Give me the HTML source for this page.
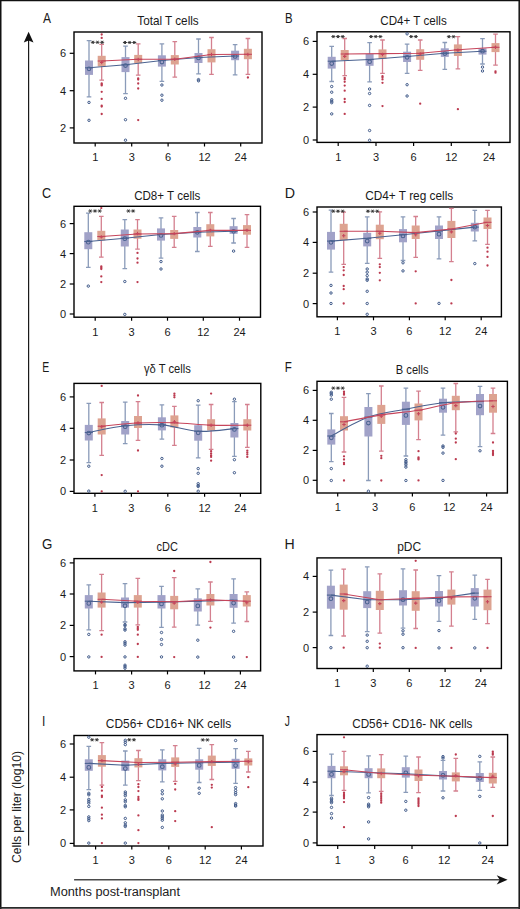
<!DOCTYPE html>
<html><head><meta charset="utf-8"><title>Figure</title>
<style>
html,body{margin:0;padding:0;background:#fff;}
body{width:520px;height:909px;overflow:hidden;}
svg{display:block;font-family:"Liberation Sans",sans-serif;}
</style></head><body>
<svg width="520" height="909" viewBox="0 0 520 909">
<rect x="0" y="0" width="520" height="909" fill="#fff"/>
<path d="M0.75 0V909M0 0.6H520M519.2 0V909" stroke="#111" stroke-width="1.5" fill="none"/><path d="M0 907.9H520" stroke="#2a2a2a" stroke-width="1.8"/>
<line x1="28.6" y1="40" x2="28.6" y2="845.6" stroke="#1a1a1a" stroke-width="1.2"/>
<path d="M28.6 31.8L33.5 42.6L28.6 40.4L23.8 42.6Z" fill="#111"/>
<line x1="74.1" y1="879.85" x2="500" y2="879.85" stroke="#4a4a4a" stroke-width="1.5"/>
<path d="M507.6 879.8L496.7 875.3L499.8 879.8L496.7 884.4Z" fill="#111"/>
<text transform="translate(21.4 863) rotate(-90)" font-size="13" fill="#222" textLength="112" lengthAdjust="spacingAndGlyphs">Cells per liter (log10)</text>
<text x="50" y="895.6" font-size="12.5" fill="#222" textLength="130" lengthAdjust="spacingAndGlyphs">Months post-transplant</text>
<rect x="74" y="32" width="188" height="111" fill="none" stroke="#000" stroke-width="1.4"/>
<line x1="69.7" y1="53.3" x2="74" y2="53.3" stroke="#000" stroke-width="1.2"/>
<text x="66.2" y="57.2" font-size="11" text-anchor="end" fill="#1a1a1a">6</text>
<line x1="69.7" y1="90.7" x2="74" y2="90.7" stroke="#000" stroke-width="1.2"/>
<text x="66.2" y="94.6" font-size="11" text-anchor="end" fill="#1a1a1a">4</text>
<line x1="69.7" y1="127.9" x2="74" y2="127.9" stroke="#000" stroke-width="1.2"/>
<text x="66.2" y="131.8" font-size="11" text-anchor="end" fill="#1a1a1a">2</text>
<line x1="95.2" y1="143" x2="95.2" y2="146.5" stroke="#000" stroke-width="1.2"/>
<text x="95.2" y="161.3" font-size="11" text-anchor="middle" fill="#1a1a1a">1</text>
<line x1="131.7" y1="143" x2="131.7" y2="146.5" stroke="#000" stroke-width="1.2"/>
<text x="131.7" y="161.3" font-size="11" text-anchor="middle" fill="#1a1a1a">3</text>
<line x1="168.1" y1="143" x2="168.1" y2="146.5" stroke="#000" stroke-width="1.2"/>
<text x="168.1" y="161.3" font-size="11" text-anchor="middle" fill="#1a1a1a">6</text>
<line x1="204.5" y1="143" x2="204.5" y2="146.5" stroke="#000" stroke-width="1.2"/>
<text x="204.5" y="161.3" font-size="11" text-anchor="middle" fill="#1a1a1a">12</text>
<line x1="240.7" y1="143" x2="240.7" y2="146.5" stroke="#000" stroke-width="1.2"/>
<text x="240.7" y="161.3" font-size="11" text-anchor="middle" fill="#1a1a1a">24</text>
<text x="168" y="24.5" font-size="12.8" text-anchor="middle" fill="#1a1a1a" textLength="61.4" lengthAdjust="spacingAndGlyphs">Total T cells</text>
<text transform="translate(43 23) scale(0.8 1)" font-size="15" fill="#1a1a1a">A</text>
<path d="M89 40.7V96.8M86.7 40.7H91.3M86.7 96.8H91.3" stroke="#8a9bb9" stroke-width="1.3" fill="none"/>
<rect x="85" y="60.5" width="8" height="14.4" fill="#a1a2c8"/>
<path d="M125.5 46.2V93.7M123.2 46.2H127.8M123.2 93.7H127.8" stroke="#8a9bb9" stroke-width="1.3" fill="none"/>
<rect x="121.5" y="57.1" width="8" height="15" fill="#a1a2c8"/>
<path d="M161.9 43.8V81.3M159.6 43.8H164.2M159.6 81.3H164.2" stroke="#8a9bb9" stroke-width="1.3" fill="none"/>
<rect x="157.9" y="55.3" width="8" height="11.3" fill="#a1a2c8"/>
<path d="M198.5 39V73.9M196.2 39H200.8M196.2 73.9H200.8" stroke="#8a9bb9" stroke-width="1.3" fill="none"/>
<rect x="194.5" y="53" width="8" height="10" fill="#a1a2c8"/>
<path d="M235.1 44.7V74.9M232.8 44.7H237.4M232.8 74.9H237.4" stroke="#8a9bb9" stroke-width="1.3" fill="none"/>
<rect x="231.1" y="50.7" width="8" height="9.5" fill="#a1a2c8"/>
<path d="M101.7 44.4V80.2M99.4 44.4H104M99.4 80.2H104" stroke="#d4808f" stroke-width="1.3" fill="none"/>
<rect x="97.7" y="55.8" width="8" height="10.6" fill="#dda391"/>
<path d="M138.2 43.8V75.2M135.9 43.8H140.5M135.9 75.2H140.5" stroke="#d4808f" stroke-width="1.3" fill="none"/>
<rect x="134.2" y="54.9" width="8" height="8.3" fill="#dda391"/>
<path d="M174.8 41.7V77.1M172.5 41.7H177.1M172.5 77.1H177.1" stroke="#d4808f" stroke-width="1.3" fill="none"/>
<rect x="170.8" y="55.1" width="8" height="9.4" fill="#dda391"/>
<path d="M211.5 37.5V74.3M209.2 37.5H213.8M209.2 74.3H213.8" stroke="#d4808f" stroke-width="1.3" fill="none"/>
<rect x="207.5" y="49.2" width="8" height="13.2" fill="#dda391"/>
<path d="M247.9 38.5V74.3M245.6 38.5H250.2M245.6 74.3H250.2" stroke="#d4808f" stroke-width="1.3" fill="none"/>
<rect x="243.9" y="48.8" width="8" height="10.4" fill="#dda391"/>
<path d="M89 67.8 L125.5 64.8 L161.9 60.5 L198.5 57.5 L235.1 56" stroke="#4a6290" stroke-width="1.1" fill="none"/>
<line x1="85" y1="67.8" x2="93" y2="67.8" stroke="#4a6290" stroke-width="1.1"/>
<circle cx="89" cy="68.8" r="1.85" fill="none" stroke="#4a6290" stroke-width="1.05"/>
<circle cx="89" cy="102.4" r="1.2" fill="none" stroke="#3e5888" stroke-width="1.0"/>
<circle cx="89" cy="120.3" r="1.2" fill="none" stroke="#3e5888" stroke-width="1.0"/>
<line x1="121.5" y1="64.8" x2="129.5" y2="64.8" stroke="#4a6290" stroke-width="1.1"/>
<circle cx="125.5" cy="65.5" r="1.85" fill="none" stroke="#4a6290" stroke-width="1.05"/>
<circle cx="125.5" cy="98.3" r="1.2" fill="none" stroke="#3e5888" stroke-width="1.0"/>
<circle cx="125.5" cy="119.7" r="1.2" fill="none" stroke="#3e5888" stroke-width="1.0"/>
<circle cx="125.5" cy="140.2" r="1.2" fill="none" stroke="#3e5888" stroke-width="1.0"/>
<line x1="157.9" y1="60.5" x2="165.9" y2="60.5" stroke="#4a6290" stroke-width="1.1"/>
<circle cx="161.9" cy="62" r="1.85" fill="none" stroke="#4a6290" stroke-width="1.05"/>
<circle cx="161.9" cy="85" r="1.2" fill="none" stroke="#3e5888" stroke-width="1.0"/>
<circle cx="161.9" cy="95.2" r="1.2" fill="none" stroke="#3e5888" stroke-width="1.0"/>
<circle cx="161.9" cy="100.2" r="1.2" fill="none" stroke="#3e5888" stroke-width="1.0"/>
<line x1="194.5" y1="57.5" x2="202.5" y2="57.5" stroke="#4a6290" stroke-width="1.1"/>
<circle cx="198.5" cy="57.9" r="1.85" fill="none" stroke="#4a6290" stroke-width="1.05"/>
<circle cx="198.5" cy="79.6" r="1.2" fill="none" stroke="#3e5888" stroke-width="1.0"/>
<circle cx="198.5" cy="80.8" r="1.2" fill="none" stroke="#3e5888" stroke-width="1.0"/>
<line x1="231.1" y1="56" x2="239.1" y2="56" stroke="#4a6290" stroke-width="1.1"/>
<circle cx="235.1" cy="56.4" r="1.85" fill="none" stroke="#4a6290" stroke-width="1.05"/>
<path d="M101.7 61 L138.2 59.3 L174.8 59.2 L211.5 54.5 L247.9 54.3" stroke="#c6455b" stroke-width="1.1" fill="none"/>
<line x1="97.7" y1="61" x2="105.7" y2="61" stroke="#c6455b" stroke-width="1.1"/>
<path d="M100 62.5h3.4M101.7 60.8v3.4" stroke="#c6455b" stroke-width="1.1"/>
<circle cx="101.7" cy="34.5" r="1.15" fill="#bb3a4f"/>
<circle cx="101.7" cy="37.9" r="1.15" fill="#bb3a4f"/>
<circle cx="101.7" cy="83.5" r="1.15" fill="#bb3a4f"/>
<circle cx="101.7" cy="84.4" r="1.15" fill="#bb3a4f"/>
<circle cx="101.7" cy="85.4" r="1.15" fill="#bb3a4f"/>
<circle cx="101.7" cy="91.8" r="1.15" fill="#bb3a4f"/>
<circle cx="101.7" cy="98.9" r="1.15" fill="#bb3a4f"/>
<circle cx="101.7" cy="105.7" r="1.15" fill="#bb3a4f"/>
<circle cx="101.7" cy="106.6" r="1.15" fill="#bb3a4f"/>
<circle cx="101.7" cy="114" r="1.15" fill="#bb3a4f"/>
<line x1="134.2" y1="59.3" x2="142.2" y2="59.3" stroke="#c6455b" stroke-width="1.1"/>
<path d="M136.5 59.5h3.4M138.2 57.8v3.4" stroke="#c6455b" stroke-width="1.1"/>
<circle cx="138.2" cy="78.4" r="1.15" fill="#bb3a4f"/>
<circle cx="138.2" cy="79.5" r="1.15" fill="#bb3a4f"/>
<circle cx="138.2" cy="83.5" r="1.15" fill="#bb3a4f"/>
<circle cx="138.2" cy="88.5" r="1.15" fill="#bb3a4f"/>
<circle cx="138.2" cy="120.1" r="1.15" fill="#bb3a4f"/>
<line x1="170.8" y1="59.2" x2="178.8" y2="59.2" stroke="#c6455b" stroke-width="1.1"/>
<path d="M173.1 59.2h3.4M174.8 57.5v3.4" stroke="#c6455b" stroke-width="1.1"/>
<line x1="207.5" y1="54.5" x2="215.5" y2="54.5" stroke="#c6455b" stroke-width="1.1"/>
<path d="M209.8 54.5h3.4M211.5 52.8v3.4" stroke="#c6455b" stroke-width="1.1"/>
<line x1="243.9" y1="54.3" x2="251.9" y2="54.3" stroke="#c6455b" stroke-width="1.1"/>
<path d="M246.2 54.5h3.4M247.9 52.8v3.4" stroke="#c6455b" stroke-width="1.1"/>
<circle cx="247.9" cy="77.5" r="1.15" fill="#bb3a4f"/>
<path d="M90.84 42.3H94.86M91.97 40.78L93.72 43.82M91.97 43.82L93.72 40.78" stroke="#333" stroke-width="0.95" fill="none"/>
<path d="M95.49 42.3H99.51M96.62 40.78L98.38 43.82M96.62 43.82L98.38 40.78" stroke="#333" stroke-width="0.95" fill="none"/>
<path d="M100.14 42.3H104.16M101.27 40.78L103.02 43.82M101.27 43.82L103.02 40.78" stroke="#333" stroke-width="0.95" fill="none"/>
<path d="M122.94 42.5H126.96M124.07 40.98L125.82 44.02M124.07 44.02L125.82 40.98" stroke="#333" stroke-width="0.95" fill="none"/>
<path d="M127.59 42.5H131.61M128.72 40.98L130.47 44.02M128.72 44.02L130.47 40.98" stroke="#333" stroke-width="0.95" fill="none"/>
<path d="M132.24 42.5H136.26M133.38 40.98L135.12 44.02M133.38 44.02L135.12 40.98" stroke="#333" stroke-width="0.95" fill="none"/>
<rect x="317" y="31.8" width="193" height="110.6" fill="none" stroke="#000" stroke-width="1.4"/>
<line x1="312.7" y1="41.4" x2="317" y2="41.4" stroke="#000" stroke-width="1.2"/>
<text x="309.2" y="45.3" font-size="11" text-anchor="end" fill="#1a1a1a">6</text>
<line x1="312.7" y1="74.3" x2="317" y2="74.3" stroke="#000" stroke-width="1.2"/>
<text x="309.2" y="78.2" font-size="11" text-anchor="end" fill="#1a1a1a">4</text>
<line x1="312.7" y1="107.1" x2="317" y2="107.1" stroke="#000" stroke-width="1.2"/>
<text x="309.2" y="111" font-size="11" text-anchor="end" fill="#1a1a1a">2</text>
<line x1="312.7" y1="140" x2="317" y2="140" stroke="#000" stroke-width="1.2"/>
<text x="309.2" y="143.9" font-size="11" text-anchor="end" fill="#1a1a1a">0</text>
<line x1="338.2" y1="142.4" x2="338.2" y2="145.9" stroke="#000" stroke-width="1.2"/>
<text x="338.2" y="160.7" font-size="11" text-anchor="middle" fill="#1a1a1a">1</text>
<line x1="376" y1="142.4" x2="376" y2="145.9" stroke="#000" stroke-width="1.2"/>
<text x="376" y="160.7" font-size="11" text-anchor="middle" fill="#1a1a1a">3</text>
<line x1="413.6" y1="142.4" x2="413.6" y2="145.9" stroke="#000" stroke-width="1.2"/>
<text x="413.6" y="160.7" font-size="11" text-anchor="middle" fill="#1a1a1a">6</text>
<line x1="451.3" y1="142.4" x2="451.3" y2="145.9" stroke="#000" stroke-width="1.2"/>
<text x="451.3" y="160.7" font-size="11" text-anchor="middle" fill="#1a1a1a">12</text>
<line x1="489" y1="142.4" x2="489" y2="145.9" stroke="#000" stroke-width="1.2"/>
<text x="489" y="160.7" font-size="11" text-anchor="middle" fill="#1a1a1a">24</text>
<text x="413.5" y="24.5" font-size="12.8" text-anchor="middle" fill="#1a1a1a" textLength="66.5" lengthAdjust="spacingAndGlyphs">CD4+ T cells</text>
<text transform="translate(285 23) scale(0.76 1)" font-size="15" fill="#1a1a1a">B</text>
<path d="M331.7 46.4V81.5M329.4 46.4H334M329.4 81.5H334" stroke="#8a9bb9" stroke-width="1.3" fill="none"/>
<rect x="327.7" y="56.8" width="8" height="11.8" fill="#a1a2c8"/>
<path d="M369.6 42.6V81.8M367.3 42.6H371.9M367.3 81.8H371.9" stroke="#8a9bb9" stroke-width="1.3" fill="none"/>
<rect x="365.6" y="53.9" width="8" height="11.9" fill="#a1a2c8"/>
<path d="M407.1 44.1V73.3M404.8 44.1H409.4M404.8 73.3H409.4" stroke="#8a9bb9" stroke-width="1.3" fill="none"/>
<rect x="403.1" y="51.7" width="8" height="10.3" fill="#a1a2c8"/>
<path d="M444.8 42.5V69.4M442.5 42.5H447.1M442.5 69.4H447.1" stroke="#8a9bb9" stroke-width="1.3" fill="none"/>
<rect x="440.8" y="48.3" width="8" height="8.6" fill="#a1a2c8"/>
<path d="M482.5 38.7V64M480.2 38.7H484.8M480.2 64H484.8" stroke="#8a9bb9" stroke-width="1.3" fill="none"/>
<rect x="478.5" y="48.3" width="8" height="6.3" fill="#a1a2c8"/>
<path d="M344.7 38.5V75.6M342.4 38.5H347M342.4 75.6H347" stroke="#d4808f" stroke-width="1.3" fill="none"/>
<rect x="340.7" y="50" width="8" height="10.2" fill="#dda391"/>
<path d="M382.5 40V73.3M380.2 40H384.8M380.2 73.3H384.8" stroke="#d4808f" stroke-width="1.3" fill="none"/>
<rect x="378.5" y="49.4" width="8" height="9.4" fill="#dda391"/>
<path d="M420.2 40V70.4M417.9 40H422.5M417.9 70.4H422.5" stroke="#d4808f" stroke-width="1.3" fill="none"/>
<rect x="416.2" y="49.2" width="8" height="10.6" fill="#dda391"/>
<path d="M457.9 36.7V68.8M455.6 36.7H460.2M455.6 68.8H460.2" stroke="#d4808f" stroke-width="1.3" fill="none"/>
<rect x="453.9" y="44.4" width="8" height="11.6" fill="#dda391"/>
<path d="M495.5 34.2V65.2M493.2 34.2H497.8M493.2 65.2H497.8" stroke="#d4808f" stroke-width="1.3" fill="none"/>
<rect x="491.5" y="43.1" width="8" height="9" fill="#dda391"/>
<path d="M331.7 61.2 L369.6 59.5 L407.1 56.5 L444.8 53.3 L482.5 51.2" stroke="#4a6290" stroke-width="1.1" fill="none"/>
<line x1="327.7" y1="61.2" x2="335.7" y2="61.2" stroke="#4a6290" stroke-width="1.1"/>
<circle cx="331.7" cy="63.5" r="1.85" fill="none" stroke="#4a6290" stroke-width="1.05"/>
<circle cx="331.7" cy="86.5" r="1.2" fill="none" stroke="#3e5888" stroke-width="1.0"/>
<circle cx="331.7" cy="92.2" r="1.2" fill="none" stroke="#3e5888" stroke-width="1.0"/>
<circle cx="331.7" cy="99.7" r="1.2" fill="none" stroke="#3e5888" stroke-width="1.0"/>
<circle cx="331.7" cy="101.2" r="1.2" fill="none" stroke="#3e5888" stroke-width="1.0"/>
<circle cx="331.7" cy="102.7" r="1.2" fill="none" stroke="#3e5888" stroke-width="1.0"/>
<circle cx="331.7" cy="113.9" r="1.2" fill="none" stroke="#3e5888" stroke-width="1.0"/>
<line x1="365.6" y1="59.5" x2="373.6" y2="59.5" stroke="#4a6290" stroke-width="1.1"/>
<circle cx="369.6" cy="61.7" r="1.85" fill="none" stroke="#4a6290" stroke-width="1.05"/>
<circle cx="369.6" cy="89" r="1.2" fill="none" stroke="#3e5888" stroke-width="1.0"/>
<circle cx="369.6" cy="93.5" r="1.2" fill="none" stroke="#3e5888" stroke-width="1.0"/>
<circle cx="369.6" cy="105.4" r="1.2" fill="none" stroke="#3e5888" stroke-width="1.0"/>
<circle cx="369.6" cy="130.5" r="1.2" fill="none" stroke="#3e5888" stroke-width="1.0"/>
<circle cx="369.6" cy="140.3" r="1.2" fill="none" stroke="#3e5888" stroke-width="1.0"/>
<line x1="403.1" y1="56.5" x2="411.1" y2="56.5" stroke="#4a6290" stroke-width="1.1"/>
<circle cx="407.1" cy="57.3" r="1.85" fill="none" stroke="#4a6290" stroke-width="1.05"/>
<circle cx="407.1" cy="33.8" r="1.2" fill="none" stroke="#3e5888" stroke-width="1.0"/>
<circle cx="407.1" cy="84.7" r="1.2" fill="none" stroke="#3e5888" stroke-width="1.0"/>
<circle cx="407.1" cy="96" r="1.2" fill="none" stroke="#3e5888" stroke-width="1.0"/>
<line x1="440.8" y1="53.3" x2="448.8" y2="53.3" stroke="#4a6290" stroke-width="1.1"/>
<circle cx="444.8" cy="53.5" r="1.85" fill="none" stroke="#4a6290" stroke-width="1.05"/>
<line x1="478.5" y1="51.2" x2="486.5" y2="51.2" stroke="#4a6290" stroke-width="1.1"/>
<circle cx="482.5" cy="51.2" r="1.85" fill="none" stroke="#4a6290" stroke-width="1.05"/>
<circle cx="482.5" cy="67.1" r="1.2" fill="none" stroke="#3e5888" stroke-width="1.0"/>
<circle cx="482.5" cy="71" r="1.2" fill="none" stroke="#3e5888" stroke-width="1.0"/>
<path d="M344.7 54 L382.5 53.6 L420.2 53.3 L457.9 49.8 L495.5 47.3" stroke="#c6455b" stroke-width="1.1" fill="none"/>
<line x1="340.7" y1="54" x2="348.7" y2="54" stroke="#c6455b" stroke-width="1.1"/>
<path d="M343 56.4h3.4M344.7 54.7v3.4" stroke="#c6455b" stroke-width="1.1"/>
<circle cx="344.7" cy="78" r="1.15" fill="#bb3a4f"/>
<circle cx="344.7" cy="79.4" r="1.15" fill="#bb3a4f"/>
<circle cx="344.7" cy="81.8" r="1.15" fill="#bb3a4f"/>
<circle cx="344.7" cy="85.6" r="1.15" fill="#bb3a4f"/>
<circle cx="344.7" cy="90.7" r="1.15" fill="#bb3a4f"/>
<circle cx="344.7" cy="99" r="1.15" fill="#bb3a4f"/>
<circle cx="344.7" cy="102" r="1.15" fill="#bb3a4f"/>
<circle cx="344.7" cy="113.9" r="1.15" fill="#bb3a4f"/>
<line x1="378.5" y1="53.6" x2="386.5" y2="53.6" stroke="#c6455b" stroke-width="1.1"/>
<path d="M380.8 54.5h3.4M382.5 52.8v3.4" stroke="#c6455b" stroke-width="1.1"/>
<circle cx="382.5" cy="76.2" r="1.15" fill="#bb3a4f"/>
<circle cx="382.5" cy="77.5" r="1.15" fill="#bb3a4f"/>
<circle cx="382.5" cy="79.4" r="1.15" fill="#bb3a4f"/>
<circle cx="382.5" cy="82.8" r="1.15" fill="#bb3a4f"/>
<circle cx="382.5" cy="106.1" r="1.15" fill="#bb3a4f"/>
<line x1="416.2" y1="53.3" x2="424.2" y2="53.3" stroke="#c6455b" stroke-width="1.1"/>
<path d="M418.5 54h3.4M420.2 52.3v3.4" stroke="#c6455b" stroke-width="1.1"/>
<circle cx="420.2" cy="103.7" r="1.15" fill="#bb3a4f"/>
<line x1="453.9" y1="49.8" x2="461.9" y2="49.8" stroke="#c6455b" stroke-width="1.1"/>
<path d="M456.2 50.2h3.4M457.9 48.5v3.4" stroke="#c6455b" stroke-width="1.1"/>
<circle cx="457.9" cy="109.2" r="1.15" fill="#bb3a4f"/>
<line x1="491.5" y1="47.3" x2="499.5" y2="47.3" stroke="#c6455b" stroke-width="1.1"/>
<path d="M493.8 47.3h3.4M495.5 45.6v3.4" stroke="#c6455b" stroke-width="1.1"/>
<circle cx="495.5" cy="71.3" r="1.15" fill="#bb3a4f"/>
<circle cx="495.5" cy="72.7" r="1.15" fill="#bb3a4f"/>
<path d="M331.34 36.6H335.36M332.48 35.08L334.23 38.12M332.48 38.12L334.23 35.08" stroke="#333" stroke-width="0.95" fill="none"/>
<path d="M335.99 36.6H340.01M337.12 35.08L338.88 38.12M337.12 38.12L338.88 35.08" stroke="#333" stroke-width="0.95" fill="none"/>
<path d="M340.64 36.6H344.66M341.78 35.08L343.53 38.12M341.78 38.12L343.53 35.08" stroke="#333" stroke-width="0.95" fill="none"/>
<path d="M369.04 36.6H373.06M370.18 35.08L371.93 38.12M370.18 38.12L371.93 35.08" stroke="#333" stroke-width="0.95" fill="none"/>
<path d="M373.69 36.6H377.71M374.82 35.08L376.57 38.12M374.82 38.12L376.57 35.08" stroke="#333" stroke-width="0.95" fill="none"/>
<path d="M378.34 36.6H382.36M379.48 35.08L381.23 38.12M379.48 38.12L381.23 35.08" stroke="#333" stroke-width="0.95" fill="none"/>
<path d="M409.16 36.6H413.19M410.3 35.08L412.05 38.12M410.3 38.12L412.05 35.08" stroke="#333" stroke-width="0.95" fill="none"/>
<path d="M413.81 36.6H417.84M414.95 35.08L416.7 38.12M414.95 38.12L416.7 35.08" stroke="#333" stroke-width="0.95" fill="none"/>
<path d="M446.86 36.7H450.89M448 35.18L449.75 38.22M448 38.22L449.75 35.18" stroke="#333" stroke-width="0.95" fill="none"/>
<path d="M451.51 36.7H455.54M452.65 35.18L454.4 38.22M452.65 38.22L454.4 35.18" stroke="#333" stroke-width="0.95" fill="none"/>
<rect x="74" y="206.3" width="186.5" height="110.9" fill="none" stroke="#000" stroke-width="1.4"/>
<line x1="69.7" y1="223.6" x2="74" y2="223.6" stroke="#000" stroke-width="1.2"/>
<text x="66.2" y="227.5" font-size="11" text-anchor="end" fill="#1a1a1a">6</text>
<line x1="69.7" y1="253.6" x2="74" y2="253.6" stroke="#000" stroke-width="1.2"/>
<text x="66.2" y="257.5" font-size="11" text-anchor="end" fill="#1a1a1a">4</text>
<line x1="69.7" y1="284" x2="74" y2="284" stroke="#000" stroke-width="1.2"/>
<text x="66.2" y="287.9" font-size="11" text-anchor="end" fill="#1a1a1a">2</text>
<line x1="69.7" y1="314" x2="74" y2="314" stroke="#000" stroke-width="1.2"/>
<text x="66.2" y="317.9" font-size="11" text-anchor="end" fill="#1a1a1a">0</text>
<line x1="95.2" y1="317.2" x2="95.2" y2="320.7" stroke="#000" stroke-width="1.2"/>
<text x="95.2" y="335.5" font-size="11" text-anchor="middle" fill="#1a1a1a">1</text>
<line x1="131.6" y1="317.2" x2="131.6" y2="320.7" stroke="#000" stroke-width="1.2"/>
<text x="131.6" y="335.5" font-size="11" text-anchor="middle" fill="#1a1a1a">3</text>
<line x1="167.5" y1="317.2" x2="167.5" y2="320.7" stroke="#000" stroke-width="1.2"/>
<text x="167.5" y="335.5" font-size="11" text-anchor="middle" fill="#1a1a1a">6</text>
<line x1="203.3" y1="317.2" x2="203.3" y2="320.7" stroke="#000" stroke-width="1.2"/>
<text x="203.3" y="335.5" font-size="11" text-anchor="middle" fill="#1a1a1a">12</text>
<line x1="239.5" y1="317.2" x2="239.5" y2="320.7" stroke="#000" stroke-width="1.2"/>
<text x="239.5" y="335.5" font-size="11" text-anchor="middle" fill="#1a1a1a">24</text>
<text x="167.25" y="199.6" font-size="12.8" text-anchor="middle" fill="#1a1a1a" textLength="66.2" lengthAdjust="spacingAndGlyphs">CD8+ T cells</text>
<text transform="translate(41.9 197.9) scale(0.84 1)" font-size="15" fill="#1a1a1a">C</text>
<path d="M88.3 213.2V267.3M86 213.2H90.6M86 267.3H90.6" stroke="#8a9bb9" stroke-width="1.3" fill="none"/>
<rect x="84.3" y="232.2" width="8" height="17" fill="#a1a2c8"/>
<path d="M124.8 219.7V268.6M122.5 219.7H127.1M122.5 268.6H127.1" stroke="#8a9bb9" stroke-width="1.3" fill="none"/>
<rect x="120.8" y="229.5" width="8" height="17" fill="#a1a2c8"/>
<path d="M161 217.8V258.1M158.7 217.8H163.3M158.7 258.1H163.3" stroke="#8a9bb9" stroke-width="1.3" fill="none"/>
<rect x="157" y="228.4" width="8" height="12.2" fill="#a1a2c8"/>
<path d="M197.3 212.5V251.5M195 212.5H199.6M195 251.5H199.6" stroke="#8a9bb9" stroke-width="1.3" fill="none"/>
<rect x="193.3" y="227" width="8" height="10.5" fill="#a1a2c8"/>
<path d="M233.6 218.5V243M231.3 218.5H235.9M231.3 243H235.9" stroke="#8a9bb9" stroke-width="1.3" fill="none"/>
<rect x="229.6" y="226.2" width="8" height="7.6" fill="#a1a2c8"/>
<path d="M101.3 216.4V257.2M99 216.4H103.6M99 257.2H103.6" stroke="#d4808f" stroke-width="1.3" fill="none"/>
<rect x="97.3" y="230.8" width="8" height="9.6" fill="#dda391"/>
<path d="M137.5 219.7V249.2M135.2 219.7H139.8M135.2 249.2H139.8" stroke="#d4808f" stroke-width="1.3" fill="none"/>
<rect x="133.5" y="229.5" width="8" height="9.2" fill="#dda391"/>
<path d="M174.2 216.3V247.3M171.9 216.3H176.5M171.9 247.3H176.5" stroke="#d4808f" stroke-width="1.3" fill="none"/>
<rect x="170.2" y="230" width="8" height="8.9" fill="#dda391"/>
<path d="M210.3 212.5V246.4M208 212.5H212.6M208 246.4H212.6" stroke="#d4808f" stroke-width="1.3" fill="none"/>
<rect x="206.3" y="224.2" width="8" height="12.2" fill="#dda391"/>
<path d="M247 214.7V247.3M244.7 214.7H249.3M244.7 247.3H249.3" stroke="#d4808f" stroke-width="1.3" fill="none"/>
<rect x="243" y="225.1" width="8" height="9.6" fill="#dda391"/>
<path d="M88.3 241.5 L124.8 238.2 L161 234.5 L197.3 232.3 L233.6 231.3" stroke="#4a6290" stroke-width="1.1" fill="none"/>
<line x1="84.3" y1="241.5" x2="92.3" y2="241.5" stroke="#4a6290" stroke-width="1.1"/>
<circle cx="88.3" cy="242.2" r="1.85" fill="none" stroke="#4a6290" stroke-width="1.05"/>
<circle cx="88.3" cy="286.1" r="1.2" fill="none" stroke="#3e5888" stroke-width="1.0"/>
<line x1="120.8" y1="238.2" x2="128.8" y2="238.2" stroke="#4a6290" stroke-width="1.1"/>
<circle cx="124.8" cy="238.7" r="1.85" fill="none" stroke="#4a6290" stroke-width="1.05"/>
<circle cx="124.8" cy="281.5" r="1.2" fill="none" stroke="#3e5888" stroke-width="1.0"/>
<circle cx="124.8" cy="314.4" r="1.2" fill="none" stroke="#3e5888" stroke-width="1.0"/>
<line x1="157" y1="234.5" x2="165" y2="234.5" stroke="#4a6290" stroke-width="1.1"/>
<circle cx="161" cy="235.4" r="1.85" fill="none" stroke="#4a6290" stroke-width="1.05"/>
<circle cx="161" cy="261.6" r="1.2" fill="none" stroke="#3e5888" stroke-width="1.0"/>
<circle cx="161" cy="269" r="1.2" fill="none" stroke="#3e5888" stroke-width="1.0"/>
<line x1="193.3" y1="232.3" x2="201.3" y2="232.3" stroke="#4a6290" stroke-width="1.1"/>
<circle cx="197.3" cy="232.3" r="1.85" fill="none" stroke="#4a6290" stroke-width="1.05"/>
<line x1="229.6" y1="231.3" x2="237.6" y2="231.3" stroke="#4a6290" stroke-width="1.1"/>
<circle cx="233.6" cy="231.3" r="1.85" fill="none" stroke="#4a6290" stroke-width="1.05"/>
<circle cx="233.6" cy="251.1" r="1.2" fill="none" stroke="#3e5888" stroke-width="1.0"/>
<path d="M101.3 236.5 L137.5 234 L174.2 233.6 L210.3 230.4 L247 230.4" stroke="#c6455b" stroke-width="1.1" fill="none"/>
<line x1="97.3" y1="236.5" x2="105.3" y2="236.5" stroke="#c6455b" stroke-width="1.1"/>
<path d="M99.6 236.9h3.4M101.3 235.2v3.4" stroke="#c6455b" stroke-width="1.1"/>
<circle cx="101.3" cy="208.1" r="1.15" fill="#bb3a4f"/>
<circle cx="101.3" cy="266.4" r="1.15" fill="#bb3a4f"/>
<circle cx="101.3" cy="267.7" r="1.15" fill="#bb3a4f"/>
<circle cx="101.3" cy="269" r="1.15" fill="#bb3a4f"/>
<circle cx="101.3" cy="276.4" r="1.15" fill="#bb3a4f"/>
<circle cx="101.3" cy="282.1" r="1.15" fill="#bb3a4f"/>
<line x1="133.5" y1="234" x2="141.5" y2="234" stroke="#c6455b" stroke-width="1.1"/>
<path d="M135.8 233.5h3.4M137.5 231.8v3.4" stroke="#c6455b" stroke-width="1.1"/>
<circle cx="137.5" cy="252.9" r="1.15" fill="#bb3a4f"/>
<circle cx="137.5" cy="258.5" r="1.15" fill="#bb3a4f"/>
<circle cx="137.5" cy="262.7" r="1.15" fill="#bb3a4f"/>
<circle cx="137.5" cy="282.1" r="1.15" fill="#bb3a4f"/>
<line x1="170.2" y1="233.6" x2="178.2" y2="233.6" stroke="#c6455b" stroke-width="1.1"/>
<path d="M172.5 233.6h3.4M174.2 231.9v3.4" stroke="#c6455b" stroke-width="1.1"/>
<line x1="206.3" y1="230.4" x2="214.3" y2="230.4" stroke="#c6455b" stroke-width="1.1"/>
<path d="M208.6 230.4h3.4M210.3 228.7v3.4" stroke="#c6455b" stroke-width="1.1"/>
<line x1="243" y1="230.4" x2="251" y2="230.4" stroke="#c6455b" stroke-width="1.1"/>
<path d="M245.3 230.4h3.4M247 228.7v3.4" stroke="#c6455b" stroke-width="1.1"/>
<path d="M88.34 211H92.36M89.47 209.48L91.22 212.52M89.47 212.52L91.22 209.48" stroke="#333" stroke-width="0.95" fill="none"/>
<path d="M92.99 211H97.01M94.12 209.48L95.88 212.52M94.12 212.52L95.88 209.48" stroke="#333" stroke-width="0.95" fill="none"/>
<path d="M97.64 211H101.66M98.77 209.48L100.52 212.52M98.77 212.52L100.52 209.48" stroke="#333" stroke-width="0.95" fill="none"/>
<path d="M126.46 211H130.49M127.6 209.48L129.35 212.52M127.6 212.52L129.35 209.48" stroke="#333" stroke-width="0.95" fill="none"/>
<path d="M131.11 211H135.14M132.25 209.48L134 212.52M132.25 212.52L134 209.48" stroke="#333" stroke-width="0.95" fill="none"/>
<rect x="317" y="207" width="184.4" height="109.8" fill="none" stroke="#000" stroke-width="1.4"/>
<line x1="312.7" y1="212" x2="317" y2="212" stroke="#000" stroke-width="1.2"/>
<text x="309.2" y="215.9" font-size="11" text-anchor="end" fill="#1a1a1a">6</text>
<line x1="312.7" y1="242.4" x2="317" y2="242.4" stroke="#000" stroke-width="1.2"/>
<text x="309.2" y="246.3" font-size="11" text-anchor="end" fill="#1a1a1a">4</text>
<line x1="312.7" y1="273.2" x2="317" y2="273.2" stroke="#000" stroke-width="1.2"/>
<text x="309.2" y="277.1" font-size="11" text-anchor="end" fill="#1a1a1a">2</text>
<line x1="312.7" y1="303.6" x2="317" y2="303.6" stroke="#000" stroke-width="1.2"/>
<text x="309.2" y="307.5" font-size="11" text-anchor="end" fill="#1a1a1a">0</text>
<line x1="337.4" y1="316.8" x2="337.4" y2="320.3" stroke="#000" stroke-width="1.2"/>
<text x="337.4" y="335.1" font-size="11" text-anchor="middle" fill="#1a1a1a">1</text>
<line x1="373.5" y1="316.8" x2="373.5" y2="320.3" stroke="#000" stroke-width="1.2"/>
<text x="373.5" y="335.1" font-size="11" text-anchor="middle" fill="#1a1a1a">3</text>
<line x1="409.4" y1="316.8" x2="409.4" y2="320.3" stroke="#000" stroke-width="1.2"/>
<text x="409.4" y="335.1" font-size="11" text-anchor="middle" fill="#1a1a1a">6</text>
<line x1="445.2" y1="316.8" x2="445.2" y2="320.3" stroke="#000" stroke-width="1.2"/>
<text x="445.2" y="335.1" font-size="11" text-anchor="middle" fill="#1a1a1a">12</text>
<line x1="481.2" y1="316.8" x2="481.2" y2="320.3" stroke="#000" stroke-width="1.2"/>
<text x="481.2" y="335.1" font-size="11" text-anchor="middle" fill="#1a1a1a">24</text>
<text x="409.2" y="199.8" font-size="12.8" text-anchor="middle" fill="#1a1a1a" textLength="88" lengthAdjust="spacingAndGlyphs">CD4+ T reg cells</text>
<text transform="translate(284.75 197.9) scale(0.95 1)" font-size="15" fill="#1a1a1a">D</text>
<path d="M331 210.2V272.2M328.7 210.2H333.3M328.7 272.2H333.3" stroke="#8a9bb9" stroke-width="1.3" fill="none"/>
<rect x="327" y="231.9" width="8" height="17.7" fill="#a1a2c8"/>
<path d="M367.2 216.8V263.4M364.9 216.8H369.5M364.9 263.4H369.5" stroke="#8a9bb9" stroke-width="1.3" fill="none"/>
<rect x="363.2" y="232.8" width="8" height="13.6" fill="#a1a2c8"/>
<path d="M403 216.8V260.5M400.7 216.8H405.3M400.7 260.5H405.3" stroke="#8a9bb9" stroke-width="1.3" fill="none"/>
<rect x="399" y="229.1" width="8" height="13.2" fill="#a1a2c8"/>
<path d="M439 216.9V258.8M436.7 216.9H441.3M436.7 258.8H441.3" stroke="#8a9bb9" stroke-width="1.3" fill="none"/>
<rect x="435" y="225.5" width="8" height="13.5" fill="#a1a2c8"/>
<path d="M474.8 210.3V240.9M472.5 210.3H477.1M472.5 240.9H477.1" stroke="#8a9bb9" stroke-width="1.3" fill="none"/>
<rect x="470.8" y="222.8" width="8" height="8.7" fill="#a1a2c8"/>
<path d="M343.7 212.1V264.3M341.4 212.1H346M341.4 264.3H346" stroke="#d4808f" stroke-width="1.3" fill="none"/>
<rect x="339.7" y="223.8" width="8" height="16.4" fill="#dda391"/>
<path d="M379.8 211.9V258.3M377.5 211.9H382.1M377.5 258.3H382.1" stroke="#d4808f" stroke-width="1.3" fill="none"/>
<rect x="375.8" y="224.7" width="8" height="14.5" fill="#dda391"/>
<path d="M415.7 216.5V257.3M413.4 216.5H418M413.4 257.3H418" stroke="#d4808f" stroke-width="1.3" fill="none"/>
<rect x="411.7" y="225.5" width="8" height="13.5" fill="#dda391"/>
<path d="M451.4 208.4V261.7M449.1 208.4H453.7M449.1 261.7H453.7" stroke="#d4808f" stroke-width="1.3" fill="none"/>
<rect x="447.4" y="220.9" width="8" height="17.1" fill="#dda391"/>
<path d="M487.5 210.3V244.4M485.2 210.3H489.8M485.2 244.4H489.8" stroke="#d4808f" stroke-width="1.3" fill="none"/>
<rect x="483.5" y="217.5" width="8" height="11.5" fill="#dda391"/>
<path d="M331 241.1 L367.2 238.3 L403 234.7 L439 230.9 L474.8 227.1" stroke="#4a6290" stroke-width="1.1" fill="none"/>
<line x1="327" y1="241.1" x2="335" y2="241.1" stroke="#4a6290" stroke-width="1.1"/>
<circle cx="331" cy="242.3" r="1.85" fill="none" stroke="#4a6290" stroke-width="1.05"/>
<circle cx="331" cy="285.4" r="1.2" fill="none" stroke="#3e5888" stroke-width="1.0"/>
<circle cx="331" cy="293" r="1.2" fill="none" stroke="#3e5888" stroke-width="1.0"/>
<circle cx="331" cy="303.5" r="1.2" fill="none" stroke="#3e5888" stroke-width="1.0"/>
<line x1="363.2" y1="238.3" x2="371.2" y2="238.3" stroke="#4a6290" stroke-width="1.1"/>
<circle cx="367.2" cy="241.1" r="1.85" fill="none" stroke="#4a6290" stroke-width="1.05"/>
<circle cx="367.2" cy="269" r="1.2" fill="none" stroke="#3e5888" stroke-width="1.0"/>
<circle cx="367.2" cy="272.2" r="1.2" fill="none" stroke="#3e5888" stroke-width="1.0"/>
<circle cx="367.2" cy="275.6" r="1.2" fill="none" stroke="#3e5888" stroke-width="1.0"/>
<circle cx="367.2" cy="279" r="1.2" fill="none" stroke="#3e5888" stroke-width="1.0"/>
<circle cx="367.2" cy="280.3" r="1.2" fill="none" stroke="#3e5888" stroke-width="1.0"/>
<circle cx="367.2" cy="291.3" r="1.2" fill="none" stroke="#3e5888" stroke-width="1.0"/>
<circle cx="367.2" cy="303.5" r="1.2" fill="none" stroke="#3e5888" stroke-width="1.0"/>
<circle cx="367.2" cy="314.3" r="1.2" fill="none" stroke="#3e5888" stroke-width="1.0"/>
<line x1="399" y1="234.7" x2="407" y2="234.7" stroke="#4a6290" stroke-width="1.1"/>
<circle cx="403" cy="236" r="1.85" fill="none" stroke="#4a6290" stroke-width="1.05"/>
<circle cx="403" cy="262.8" r="1.2" fill="none" stroke="#3e5888" stroke-width="1.0"/>
<circle cx="403" cy="270.9" r="1.2" fill="none" stroke="#3e5888" stroke-width="1.0"/>
<line x1="435" y1="230.9" x2="443" y2="230.9" stroke="#4a6290" stroke-width="1.1"/>
<circle cx="439" cy="234.2" r="1.85" fill="none" stroke="#4a6290" stroke-width="1.05"/>
<circle cx="439" cy="303.4" r="1.2" fill="none" stroke="#3e5888" stroke-width="1.0"/>
<line x1="470.8" y1="227.1" x2="478.8" y2="227.1" stroke="#4a6290" stroke-width="1.1"/>
<circle cx="474.8" cy="227.1" r="1.85" fill="none" stroke="#4a6290" stroke-width="1.05"/>
<circle cx="474.8" cy="263.6" r="1.2" fill="none" stroke="#3e5888" stroke-width="1.0"/>
<path d="M343.7 231.3 L379.8 231.3 L415.7 232.6 L451.4 229 L487.5 222.3" stroke="#c6455b" stroke-width="1.1" fill="none"/>
<line x1="339.7" y1="231.3" x2="347.7" y2="231.3" stroke="#c6455b" stroke-width="1.1"/>
<path d="M342 235.7h3.4M343.7 234v3.4" stroke="#c6455b" stroke-width="1.1"/>
<circle cx="343.7" cy="267.1" r="1.15" fill="#bb3a4f"/>
<circle cx="343.7" cy="270.3" r="1.15" fill="#bb3a4f"/>
<circle cx="343.7" cy="275" r="1.15" fill="#bb3a4f"/>
<circle cx="343.7" cy="286" r="1.15" fill="#bb3a4f"/>
<circle cx="343.7" cy="289.2" r="1.15" fill="#bb3a4f"/>
<circle cx="343.7" cy="303.5" r="1.15" fill="#bb3a4f"/>
<line x1="375.8" y1="231.3" x2="383.8" y2="231.3" stroke="#c6455b" stroke-width="1.1"/>
<path d="M378.1 233.2h3.4M379.8 231.5v3.4" stroke="#c6455b" stroke-width="1.1"/>
<circle cx="379.8" cy="264.3" r="1.15" fill="#bb3a4f"/>
<circle cx="379.8" cy="267.1" r="1.15" fill="#bb3a4f"/>
<circle cx="379.8" cy="272.8" r="1.15" fill="#bb3a4f"/>
<circle cx="379.8" cy="280.3" r="1.15" fill="#bb3a4f"/>
<line x1="411.7" y1="232.6" x2="419.7" y2="232.6" stroke="#c6455b" stroke-width="1.1"/>
<path d="M414 234.8h3.4M415.7 233.1v3.4" stroke="#c6455b" stroke-width="1.1"/>
<circle cx="415.7" cy="271.3" r="1.15" fill="#bb3a4f"/>
<circle cx="415.7" cy="303.4" r="1.15" fill="#bb3a4f"/>
<line x1="447.4" y1="229" x2="455.4" y2="229" stroke="#c6455b" stroke-width="1.1"/>
<path d="M449.7 231.9h3.4M451.4 230.2v3.4" stroke="#c6455b" stroke-width="1.1"/>
<circle cx="451.4" cy="280" r="1.15" fill="#bb3a4f"/>
<circle cx="451.4" cy="303.4" r="1.15" fill="#bb3a4f"/>
<line x1="483.5" y1="222.3" x2="491.5" y2="222.3" stroke="#c6455b" stroke-width="1.1"/>
<path d="M485.8 225.5h3.4M487.5 223.8v3.4" stroke="#c6455b" stroke-width="1.1"/>
<circle cx="487.5" cy="247.7" r="1.15" fill="#bb3a4f"/>
<circle cx="487.5" cy="251.7" r="1.15" fill="#bb3a4f"/>
<circle cx="487.5" cy="256.9" r="1.15" fill="#bb3a4f"/>
<circle cx="487.5" cy="265.5" r="1.15" fill="#bb3a4f"/>
<path d="M331.34 211.2H335.36M332.48 209.68L334.23 212.72M332.48 212.72L334.23 209.68" stroke="#333" stroke-width="0.95" fill="none"/>
<path d="M335.99 211.2H340.01M337.12 209.68L338.88 212.72M337.12 212.72L338.88 209.68" stroke="#333" stroke-width="0.95" fill="none"/>
<path d="M340.64 211.2H344.66M341.78 209.68L343.53 212.72M341.78 212.72L343.53 209.68" stroke="#333" stroke-width="0.95" fill="none"/>
<path d="M365.94 211.2H369.96M367.08 209.68L368.83 212.72M367.08 212.72L368.83 209.68" stroke="#333" stroke-width="0.95" fill="none"/>
<path d="M370.59 211.2H374.61M371.73 209.68L373.48 212.72M371.73 212.72L373.48 209.68" stroke="#333" stroke-width="0.95" fill="none"/>
<path d="M375.24 211.2H379.26M376.38 209.68L378.13 212.72M376.38 212.72L378.13 209.68" stroke="#333" stroke-width="0.95" fill="none"/>
<rect x="74" y="383.4" width="186.8" height="109.9" fill="none" stroke="#000" stroke-width="1.4"/>
<line x1="69.7" y1="396.9" x2="74" y2="396.9" stroke="#000" stroke-width="1.2"/>
<text x="66.2" y="400.8" font-size="11" text-anchor="end" fill="#1a1a1a">6</text>
<line x1="69.7" y1="428.3" x2="74" y2="428.3" stroke="#000" stroke-width="1.2"/>
<text x="66.2" y="432.2" font-size="11" text-anchor="end" fill="#1a1a1a">4</text>
<line x1="69.7" y1="460" x2="74" y2="460" stroke="#000" stroke-width="1.2"/>
<text x="66.2" y="463.9" font-size="11" text-anchor="end" fill="#1a1a1a">2</text>
<line x1="69.7" y1="491.4" x2="74" y2="491.4" stroke="#000" stroke-width="1.2"/>
<text x="66.2" y="495.3" font-size="11" text-anchor="end" fill="#1a1a1a">0</text>
<line x1="94.9" y1="493.3" x2="94.9" y2="496.8" stroke="#000" stroke-width="1.2"/>
<text x="94.9" y="511.6" font-size="11" text-anchor="middle" fill="#1a1a1a">1</text>
<line x1="131.4" y1="493.3" x2="131.4" y2="496.8" stroke="#000" stroke-width="1.2"/>
<text x="131.4" y="511.6" font-size="11" text-anchor="middle" fill="#1a1a1a">3</text>
<line x1="167.8" y1="493.3" x2="167.8" y2="496.8" stroke="#000" stroke-width="1.2"/>
<text x="167.8" y="511.6" font-size="11" text-anchor="middle" fill="#1a1a1a">6</text>
<line x1="204.6" y1="493.3" x2="204.6" y2="496.8" stroke="#000" stroke-width="1.2"/>
<text x="204.6" y="511.6" font-size="11" text-anchor="middle" fill="#1a1a1a">12</text>
<line x1="240.4" y1="493.3" x2="240.4" y2="496.8" stroke="#000" stroke-width="1.2"/>
<text x="240.4" y="511.6" font-size="11" text-anchor="middle" fill="#1a1a1a">24</text>
<text x="167.4" y="373.4" font-size="12.8" text-anchor="middle" fill="#1a1a1a" textLength="47" lengthAdjust="spacingAndGlyphs">γδ T cells</text>
<text transform="translate(42.3 372.4) scale(0.7 1)" font-size="15" fill="#1a1a1a">E</text>
<path d="M88.8 403.4V462.7M86.5 403.4H91.1M86.5 462.7H91.1" stroke="#8a9bb9" stroke-width="1.3" fill="none"/>
<rect x="84.8" y="424.9" width="8" height="15.6" fill="#a1a2c8"/>
<path d="M125.2 402.2V443.7M122.9 402.2H127.5M122.9 443.7H127.5" stroke="#8a9bb9" stroke-width="1.3" fill="none"/>
<rect x="121.2" y="421" width="8" height="13.5" fill="#a1a2c8"/>
<path d="M161.9 404.9V439.1M159.6 404.9H164.2M159.6 439.1H164.2" stroke="#8a9bb9" stroke-width="1.3" fill="none"/>
<rect x="157.9" y="417.3" width="8" height="13.1" fill="#a1a2c8"/>
<path d="M198.2 405.1V457.8M195.9 405.1H200.5M195.9 457.8H200.5" stroke="#8a9bb9" stroke-width="1.3" fill="none"/>
<rect x="194.2" y="425.2" width="8" height="15.5" fill="#a1a2c8"/>
<path d="M234.4 401.7V456.3M232.1 401.7H236.7M232.1 456.3H236.7" stroke="#8a9bb9" stroke-width="1.3" fill="none"/>
<rect x="230.4" y="423" width="8" height="14.5" fill="#a1a2c8"/>
<path d="M101.7 402.5V455.3M99.4 402.5H104M99.4 455.3H104" stroke="#d4808f" stroke-width="1.3" fill="none"/>
<rect x="97.7" y="418.4" width="8" height="16.1" fill="#dda391"/>
<path d="M138 401.6V440.4M135.7 401.6H140.3M135.7 440.4H140.3" stroke="#d4808f" stroke-width="1.3" fill="none"/>
<rect x="134" y="416" width="8" height="12" fill="#dda391"/>
<path d="M174.4 406.4V445.4M172.1 406.4H176.7M172.1 445.4H176.7" stroke="#d4808f" stroke-width="1.3" fill="none"/>
<rect x="170.4" y="415.4" width="8" height="12.1" fill="#dda391"/>
<path d="M211.1 404.5V449.4M208.8 404.5H213.4M208.8 449.4H213.4" stroke="#d4808f" stroke-width="1.3" fill="none"/>
<rect x="207.1" y="419.2" width="8" height="11.3" fill="#dda391"/>
<path d="M247.3 404.5V447.3M245 404.5H249.6M245 447.3H249.6" stroke="#d4808f" stroke-width="1.3" fill="none"/>
<rect x="243.3" y="419.2" width="8" height="11.3" fill="#dda391"/>
<path d="M88.8 432.5 C94.87 431.38 113.02 427.07 125.2 425.8 C137.38 424.53 149.73 423.98 161.9 424.9 C174.07 425.82 186.12 430.68 198.2 431.3 C210.28 431.92 228.37 429.05 234.4 428.6" stroke="#4a6290" stroke-width="1.1" fill="none"/>
<line x1="84.8" y1="432.5" x2="92.8" y2="432.5" stroke="#4a6290" stroke-width="1.1"/>
<circle cx="88.8" cy="433" r="1.85" fill="none" stroke="#4a6290" stroke-width="1.05"/>
<circle cx="88.8" cy="466.2" r="1.2" fill="none" stroke="#3e5888" stroke-width="1.0"/>
<circle cx="88.8" cy="491.1" r="1.2" fill="none" stroke="#3e5888" stroke-width="1.0"/>
<line x1="121.2" y1="425.8" x2="129.2" y2="425.8" stroke="#4a6290" stroke-width="1.1"/>
<circle cx="125.2" cy="426.7" r="1.85" fill="none" stroke="#4a6290" stroke-width="1.05"/>
<circle cx="125.2" cy="491.3" r="1.2" fill="none" stroke="#3e5888" stroke-width="1.0"/>
<line x1="157.9" y1="424.9" x2="165.9" y2="424.9" stroke="#4a6290" stroke-width="1.1"/>
<circle cx="161.9" cy="425.2" r="1.85" fill="none" stroke="#4a6290" stroke-width="1.05"/>
<circle cx="161.9" cy="458.5" r="1.2" fill="none" stroke="#3e5888" stroke-width="1.0"/>
<circle cx="161.9" cy="466.2" r="1.2" fill="none" stroke="#3e5888" stroke-width="1.0"/>
<line x1="194.2" y1="431.3" x2="202.2" y2="431.3" stroke="#4a6290" stroke-width="1.1"/>
<circle cx="198.2" cy="432.8" r="1.85" fill="none" stroke="#4a6290" stroke-width="1.05"/>
<circle cx="198.2" cy="400.7" r="1.2" fill="none" stroke="#3e5888" stroke-width="1.0"/>
<circle cx="198.2" cy="468.6" r="1.2" fill="none" stroke="#3e5888" stroke-width="1.0"/>
<circle cx="198.2" cy="473.3" r="1.2" fill="none" stroke="#3e5888" stroke-width="1.0"/>
<circle cx="198.2" cy="483.7" r="1.2" fill="none" stroke="#3e5888" stroke-width="1.0"/>
<circle cx="198.2" cy="485.5" r="1.2" fill="none" stroke="#3e5888" stroke-width="1.0"/>
<circle cx="198.2" cy="486.5" r="1.2" fill="none" stroke="#3e5888" stroke-width="1.0"/>
<circle cx="198.2" cy="491.2" r="1.2" fill="none" stroke="#3e5888" stroke-width="1.0"/>
<line x1="230.4" y1="428.6" x2="238.4" y2="428.6" stroke="#4a6290" stroke-width="1.1"/>
<circle cx="234.4" cy="429.4" r="1.85" fill="none" stroke="#4a6290" stroke-width="1.05"/>
<circle cx="234.4" cy="399.2" r="1.2" fill="none" stroke="#3e5888" stroke-width="1.0"/>
<circle cx="234.4" cy="459.7" r="1.2" fill="none" stroke="#3e5888" stroke-width="1.0"/>
<circle cx="234.4" cy="472.7" r="1.2" fill="none" stroke="#3e5888" stroke-width="1.0"/>
<path d="M101.7 426.2 C107.75 425.67 125.88 423.57 138 423 C150.12 422.43 162.22 422.43 174.4 422.8 C186.58 423.17 198.95 424.8 211.1 425.2 C223.25 425.6 241.27 425.2 247.3 425.2" stroke="#c6455b" stroke-width="1.1" fill="none"/>
<line x1="97.7" y1="426.2" x2="105.7" y2="426.2" stroke="#c6455b" stroke-width="1.1"/>
<path d="M100 426.7h3.4M101.7 425v3.4" stroke="#c6455b" stroke-width="1.1"/>
<circle cx="101.7" cy="385.9" r="1.15" fill="#bb3a4f"/>
<circle cx="101.7" cy="475.1" r="1.15" fill="#bb3a4f"/>
<circle cx="101.7" cy="491.3" r="1.15" fill="#bb3a4f"/>
<line x1="134" y1="423" x2="142" y2="423" stroke="#c6455b" stroke-width="1.1"/>
<path d="M136.3 423h3.4M138 421.3v3.4" stroke="#c6455b" stroke-width="1.1"/>
<circle cx="138" cy="395.5" r="1.15" fill="#bb3a4f"/>
<circle cx="138" cy="450.5" r="1.15" fill="#bb3a4f"/>
<circle cx="138" cy="491.3" r="1.15" fill="#bb3a4f"/>
<line x1="170.4" y1="422.8" x2="178.4" y2="422.8" stroke="#c6455b" stroke-width="1.1"/>
<path d="M172.7 421.8h3.4M174.4 420.1v3.4" stroke="#c6455b" stroke-width="1.1"/>
<circle cx="174.4" cy="393.6" r="1.15" fill="#bb3a4f"/>
<circle cx="174.4" cy="395.5" r="1.15" fill="#bb3a4f"/>
<circle cx="174.4" cy="397.3" r="1.15" fill="#bb3a4f"/>
<line x1="207.1" y1="425.2" x2="215.1" y2="425.2" stroke="#c6455b" stroke-width="1.1"/>
<path d="M209.4 425.2h3.4M211.1 423.5v3.4" stroke="#c6455b" stroke-width="1.1"/>
<circle cx="211.1" cy="393.6" r="1.15" fill="#bb3a4f"/>
<circle cx="211.1" cy="451.2" r="1.15" fill="#bb3a4f"/>
<circle cx="211.1" cy="453.5" r="1.15" fill="#bb3a4f"/>
<circle cx="211.1" cy="455.4" r="1.15" fill="#bb3a4f"/>
<circle cx="211.1" cy="456.9" r="1.15" fill="#bb3a4f"/>
<circle cx="211.1" cy="460.7" r="1.15" fill="#bb3a4f"/>
<line x1="243.3" y1="425.2" x2="251.3" y2="425.2" stroke="#c6455b" stroke-width="1.1"/>
<path d="M245.6 425.2h3.4M247.3 423.5v3.4" stroke="#c6455b" stroke-width="1.1"/>
<circle cx="247.3" cy="450.7" r="1.15" fill="#bb3a4f"/>
<circle cx="247.3" cy="452.6" r="1.15" fill="#bb3a4f"/>
<circle cx="247.3" cy="454.4" r="1.15" fill="#bb3a4f"/>
<circle cx="247.3" cy="456.9" r="1.15" fill="#bb3a4f"/>
<rect x="317" y="381.3" width="190.4" height="111.7" fill="none" stroke="#000" stroke-width="1.4"/>
<line x1="312.7" y1="390.4" x2="317" y2="390.4" stroke="#000" stroke-width="1.2"/>
<text x="309.2" y="394.3" font-size="11" text-anchor="end" fill="#1a1a1a">6</text>
<line x1="312.7" y1="420.3" x2="317" y2="420.3" stroke="#000" stroke-width="1.2"/>
<text x="309.2" y="424.2" font-size="11" text-anchor="end" fill="#1a1a1a">4</text>
<line x1="312.7" y1="450.4" x2="317" y2="450.4" stroke="#000" stroke-width="1.2"/>
<text x="309.2" y="454.3" font-size="11" text-anchor="end" fill="#1a1a1a">2</text>
<line x1="312.7" y1="480.3" x2="317" y2="480.3" stroke="#000" stroke-width="1.2"/>
<text x="309.2" y="484.2" font-size="11" text-anchor="end" fill="#1a1a1a">0</text>
<line x1="337.7" y1="493" x2="337.7" y2="496.5" stroke="#000" stroke-width="1.2"/>
<text x="337.7" y="511.3" font-size="11" text-anchor="middle" fill="#1a1a1a">1</text>
<line x1="375" y1="493" x2="375" y2="496.5" stroke="#000" stroke-width="1.2"/>
<text x="375" y="511.3" font-size="11" text-anchor="middle" fill="#1a1a1a">3</text>
<line x1="412.4" y1="493" x2="412.4" y2="496.5" stroke="#000" stroke-width="1.2"/>
<text x="412.4" y="511.3" font-size="11" text-anchor="middle" fill="#1a1a1a">6</text>
<line x1="449.3" y1="493" x2="449.3" y2="496.5" stroke="#000" stroke-width="1.2"/>
<text x="449.3" y="511.3" font-size="11" text-anchor="middle" fill="#1a1a1a">12</text>
<line x1="486.6" y1="493" x2="486.6" y2="496.5" stroke="#000" stroke-width="1.2"/>
<text x="486.6" y="511.3" font-size="11" text-anchor="middle" fill="#1a1a1a">24</text>
<text x="412.2" y="373.5" font-size="12.8" text-anchor="middle" fill="#1a1a1a" textLength="32.7" lengthAdjust="spacingAndGlyphs">B cells</text>
<text transform="translate(284.7 372.4) scale(0.77 1)" font-size="15" fill="#1a1a1a">F</text>
<path d="M331.3 413.5V461.6M329 413.5H333.6M329 461.6H333.6" stroke="#8a9bb9" stroke-width="1.3" fill="none"/>
<rect x="327.3" y="429.4" width="8" height="15.2" fill="#a1a2c8"/>
<path d="M368.4 393.6V480.5M366.1 393.6H370.7M366.1 480.5H370.7" stroke="#8a9bb9" stroke-width="1.3" fill="none"/>
<rect x="364.4" y="407" width="8" height="29.5" fill="#a1a2c8"/>
<path d="M405.9 388.1V456M403.6 388.1H408.2M403.6 456H408.2" stroke="#8a9bb9" stroke-width="1.3" fill="none"/>
<rect x="401.9" y="401.7" width="8" height="23.2" fill="#a1a2c8"/>
<path d="M443 388.1V435.2M440.7 388.1H445.3M440.7 435.2H445.3" stroke="#8a9bb9" stroke-width="1.3" fill="none"/>
<rect x="439" y="398.7" width="8" height="14" fill="#a1a2c8"/>
<path d="M480 386.3V446.7M477.7 386.3H482.3M477.7 446.7H482.3" stroke="#8a9bb9" stroke-width="1.3" fill="none"/>
<rect x="476" y="394" width="8" height="21.2" fill="#a1a2c8"/>
<path d="M344 397.3V452M341.7 397.3H346.3M341.7 452H346.3" stroke="#d4808f" stroke-width="1.3" fill="none"/>
<rect x="340" y="416.2" width="8" height="14.3" fill="#dda391"/>
<path d="M381.3 386V451.1M379 386H383.6M379 451.1H383.6" stroke="#d4808f" stroke-width="1.3" fill="none"/>
<rect x="377.3" y="404.9" width="8" height="19" fill="#dda391"/>
<path d="M418.5 391.2V439.6M416.2 391.2H420.8M416.2 439.6H420.8" stroke="#d4808f" stroke-width="1.3" fill="none"/>
<rect x="414.5" y="403.5" width="8" height="16.9" fill="#dda391"/>
<path d="M455.8 383.5V431.9M453.5 383.5H458.1M453.5 431.9H458.1" stroke="#d4808f" stroke-width="1.3" fill="none"/>
<rect x="451.8" y="395.8" width="8" height="14.4" fill="#dda391"/>
<path d="M493 388.1V433.5M490.7 388.1H495.3M490.7 433.5H495.3" stroke="#d4808f" stroke-width="1.3" fill="none"/>
<rect x="489" y="394" width="8" height="18.7" fill="#dda391"/>
<path d="M331.3 436 C337.48 432.85 355.97 421.57 368.4 417.1 C380.83 412.63 393.47 411.6 405.9 409.2 C418.33 406.8 430.65 403.98 443 402.7 C455.35 401.42 473.83 401.7 480 401.5" stroke="#4a6290" stroke-width="1.1" fill="none"/>
<line x1="327.3" y1="436" x2="335.3" y2="436" stroke="#4a6290" stroke-width="1.1"/>
<circle cx="331.3" cy="437.8" r="1.85" fill="none" stroke="#4a6290" stroke-width="1.05"/>
<circle cx="331.3" cy="392.3" r="1.2" fill="none" stroke="#3e5888" stroke-width="1.0"/>
<circle cx="331.3" cy="393.6" r="1.2" fill="none" stroke="#3e5888" stroke-width="1.0"/>
<circle cx="331.3" cy="395.1" r="1.2" fill="none" stroke="#3e5888" stroke-width="1.0"/>
<circle cx="331.3" cy="399.2" r="1.2" fill="none" stroke="#3e5888" stroke-width="1.0"/>
<circle cx="331.3" cy="468.6" r="1.2" fill="none" stroke="#3e5888" stroke-width="1.0"/>
<circle cx="331.3" cy="480.5" r="1.2" fill="none" stroke="#3e5888" stroke-width="1.0"/>
<line x1="364.4" y1="417.1" x2="372.4" y2="417.1" stroke="#4a6290" stroke-width="1.1"/>
<circle cx="368.4" cy="423" r="1.85" fill="none" stroke="#4a6290" stroke-width="1.05"/>
<circle cx="368.4" cy="491.2" r="1.2" fill="none" stroke="#3e5888" stroke-width="1.0"/>
<line x1="401.9" y1="409.2" x2="409.9" y2="409.2" stroke="#4a6290" stroke-width="1.1"/>
<circle cx="405.9" cy="415.4" r="1.85" fill="none" stroke="#4a6290" stroke-width="1.05"/>
<circle cx="405.9" cy="459.7" r="1.2" fill="none" stroke="#3e5888" stroke-width="1.0"/>
<circle cx="405.9" cy="461.4" r="1.2" fill="none" stroke="#3e5888" stroke-width="1.0"/>
<circle cx="405.9" cy="462.9" r="1.2" fill="none" stroke="#3e5888" stroke-width="1.0"/>
<circle cx="405.9" cy="464.8" r="1.2" fill="none" stroke="#3e5888" stroke-width="1.0"/>
<circle cx="405.9" cy="467.1" r="1.2" fill="none" stroke="#3e5888" stroke-width="1.0"/>
<circle cx="405.9" cy="480.5" r="1.2" fill="none" stroke="#3e5888" stroke-width="1.0"/>
<line x1="439" y1="402.7" x2="447" y2="402.7" stroke="#4a6290" stroke-width="1.1"/>
<circle cx="443" cy="407.3" r="1.85" fill="none" stroke="#4a6290" stroke-width="1.05"/>
<circle cx="443" cy="446" r="1.2" fill="none" stroke="#3e5888" stroke-width="1.0"/>
<circle cx="443" cy="447.3" r="1.2" fill="none" stroke="#3e5888" stroke-width="1.0"/>
<circle cx="443" cy="453.1" r="1.2" fill="none" stroke="#3e5888" stroke-width="1.0"/>
<circle cx="443" cy="480.4" r="1.2" fill="none" stroke="#3e5888" stroke-width="1.0"/>
<line x1="476" y1="401.5" x2="484" y2="401.5" stroke="#4a6290" stroke-width="1.1"/>
<circle cx="480" cy="406" r="1.85" fill="none" stroke="#4a6290" stroke-width="1.05"/>
<circle cx="480" cy="450.8" r="1.2" fill="none" stroke="#3e5888" stroke-width="1.0"/>
<path d="M344 421.8 C350.22 420.65 368.88 416.83 381.3 414.9 C393.72 412.97 406.08 412.23 418.5 410.2 C430.92 408.17 443.38 404.27 455.8 402.7 C468.22 401.13 486.8 401.12 493 400.8" stroke="#c6455b" stroke-width="1.1" fill="none"/>
<line x1="340" y1="421.8" x2="348" y2="421.8" stroke="#c6455b" stroke-width="1.1"/>
<path d="M342.3 424.5h3.4M344 422.8v3.4" stroke="#c6455b" stroke-width="1.1"/>
<circle cx="344" cy="391.7" r="1.15" fill="#bb3a4f"/>
<circle cx="344" cy="393.2" r="1.15" fill="#bb3a4f"/>
<circle cx="344" cy="394.7" r="1.15" fill="#bb3a4f"/>
<circle cx="344" cy="456.3" r="1.15" fill="#bb3a4f"/>
<circle cx="344" cy="459.5" r="1.15" fill="#bb3a4f"/>
<circle cx="344" cy="462.9" r="1.15" fill="#bb3a4f"/>
<circle cx="344" cy="464.2" r="1.15" fill="#bb3a4f"/>
<circle cx="344" cy="480.5" r="1.15" fill="#bb3a4f"/>
<line x1="377.3" y1="414.9" x2="385.3" y2="414.9" stroke="#c6455b" stroke-width="1.1"/>
<path d="M379.6 416.2h3.4M381.3 414.5v3.4" stroke="#c6455b" stroke-width="1.1"/>
<circle cx="381.3" cy="455.8" r="1.15" fill="#bb3a4f"/>
<circle cx="381.3" cy="458.2" r="1.15" fill="#bb3a4f"/>
<circle cx="381.3" cy="480.5" r="1.15" fill="#bb3a4f"/>
<line x1="414.5" y1="410.2" x2="422.5" y2="410.2" stroke="#c6455b" stroke-width="1.1"/>
<path d="M416.8 413.7h3.4M418.5 412v3.4" stroke="#c6455b" stroke-width="1.1"/>
<circle cx="418.5" cy="451.2" r="1.15" fill="#bb3a4f"/>
<circle cx="418.5" cy="457.3" r="1.15" fill="#bb3a4f"/>
<circle cx="418.5" cy="458.5" r="1.15" fill="#bb3a4f"/>
<circle cx="418.5" cy="459.4" r="1.15" fill="#bb3a4f"/>
<circle cx="418.5" cy="480.4" r="1.15" fill="#bb3a4f"/>
<line x1="451.8" y1="402.7" x2="459.8" y2="402.7" stroke="#c6455b" stroke-width="1.1"/>
<path d="M454.1 405.6h3.4M455.8 403.9v3.4" stroke="#c6455b" stroke-width="1.1"/>
<circle cx="455.8" cy="433.5" r="1.15" fill="#bb3a4f"/>
<circle cx="455.8" cy="438.7" r="1.15" fill="#bb3a4f"/>
<circle cx="455.8" cy="442.5" r="1.15" fill="#bb3a4f"/>
<circle cx="455.8" cy="459.2" r="1.15" fill="#bb3a4f"/>
<line x1="489" y1="400.8" x2="497" y2="400.8" stroke="#c6455b" stroke-width="1.1"/>
<path d="M491.3 406.5h3.4M493 404.8v3.4" stroke="#c6455b" stroke-width="1.1"/>
<circle cx="493" cy="442.5" r="1.15" fill="#bb3a4f"/>
<circle cx="493" cy="450.8" r="1.15" fill="#bb3a4f"/>
<circle cx="493" cy="452.1" r="1.15" fill="#bb3a4f"/>
<circle cx="493" cy="453.5" r="1.15" fill="#bb3a4f"/>
<circle cx="493" cy="455" r="1.15" fill="#bb3a4f"/>
<path d="M331.34 388.1H335.36M332.48 386.58L334.23 389.62M332.48 389.62L334.23 386.58" stroke="#333" stroke-width="0.95" fill="none"/>
<path d="M335.99 388.1H340.01M337.12 386.58L338.88 389.62M337.12 389.62L338.88 386.58" stroke="#333" stroke-width="0.95" fill="none"/>
<path d="M340.64 388.1H344.66M341.78 386.58L343.53 389.62M341.78 389.62L343.53 386.58" stroke="#333" stroke-width="0.95" fill="none"/>
<rect x="74" y="558.6" width="186.6" height="112.3" fill="none" stroke="#000" stroke-width="1.4"/>
<line x1="69.7" y1="562.9" x2="74" y2="562.9" stroke="#000" stroke-width="1.2"/>
<text x="66.2" y="566.8" font-size="11" text-anchor="end" fill="#1a1a1a">6</text>
<line x1="69.7" y1="594" x2="74" y2="594" stroke="#000" stroke-width="1.2"/>
<text x="66.2" y="597.9" font-size="11" text-anchor="end" fill="#1a1a1a">4</text>
<line x1="69.7" y1="625.4" x2="74" y2="625.4" stroke="#000" stroke-width="1.2"/>
<text x="66.2" y="629.3" font-size="11" text-anchor="end" fill="#1a1a1a">2</text>
<line x1="69.7" y1="656.6" x2="74" y2="656.6" stroke="#000" stroke-width="1.2"/>
<text x="66.2" y="660.5" font-size="11" text-anchor="end" fill="#1a1a1a">0</text>
<line x1="95.5" y1="670.9" x2="95.5" y2="674.4" stroke="#000" stroke-width="1.2"/>
<text x="95.5" y="689.2" font-size="11" text-anchor="middle" fill="#1a1a1a">1</text>
<line x1="131.6" y1="670.9" x2="131.6" y2="674.4" stroke="#000" stroke-width="1.2"/>
<text x="131.6" y="689.2" font-size="11" text-anchor="middle" fill="#1a1a1a">3</text>
<line x1="167.5" y1="670.9" x2="167.5" y2="674.4" stroke="#000" stroke-width="1.2"/>
<text x="167.5" y="689.2" font-size="11" text-anchor="middle" fill="#1a1a1a">6</text>
<line x1="204.5" y1="670.9" x2="204.5" y2="674.4" stroke="#000" stroke-width="1.2"/>
<text x="204.5" y="689.2" font-size="11" text-anchor="middle" fill="#1a1a1a">12</text>
<line x1="240.4" y1="670.9" x2="240.4" y2="674.4" stroke="#000" stroke-width="1.2"/>
<text x="240.4" y="689.2" font-size="11" text-anchor="middle" fill="#1a1a1a">24</text>
<text x="167.3" y="550.6" font-size="12.8" text-anchor="middle" fill="#1a1a1a" textLength="21.4" lengthAdjust="spacingAndGlyphs">cDC</text>
<text transform="translate(41.9 549.2) scale(0.89 1)" font-size="15" fill="#1a1a1a">G</text>
<path d="M88.8 584.9V629.8M86.5 584.9H91.1M86.5 629.8H91.1" stroke="#8a9bb9" stroke-width="1.3" fill="none"/>
<rect x="84.8" y="595.1" width="8" height="13.4" fill="#a1a2c8"/>
<path d="M125 583.6V622M122.7 583.6H127.3M122.7 622H127.3" stroke="#8a9bb9" stroke-width="1.3" fill="none"/>
<rect x="121" y="597.5" width="8" height="10.1" fill="#a1a2c8"/>
<path d="M161.5 586.4V627.4M159.2 586.4H163.8M159.2 627.4H163.8" stroke="#8a9bb9" stroke-width="1.3" fill="none"/>
<rect x="157.5" y="595.1" width="8" height="13.4" fill="#a1a2c8"/>
<path d="M197.8 588.9V625.1M195.5 588.9H200.1M195.5 625.1H200.1" stroke="#8a9bb9" stroke-width="1.3" fill="none"/>
<rect x="193.8" y="598.3" width="8" height="13.2" fill="#a1a2c8"/>
<path d="M233.6 578.9V623.2M231.3 578.9H235.9M231.3 623.2H235.9" stroke="#8a9bb9" stroke-width="1.3" fill="none"/>
<rect x="229.6" y="594" width="8" height="13.8" fill="#a1a2c8"/>
<path d="M101.6 574.4V630.7M99.3 574.4H103.9M99.3 630.7H103.9" stroke="#d4808f" stroke-width="1.3" fill="none"/>
<rect x="97.6" y="592.5" width="8" height="15.1" fill="#dda391"/>
<path d="M137.8 578.4V624.8M135.5 578.4H140.1M135.5 624.8H140.1" stroke="#d4808f" stroke-width="1.3" fill="none"/>
<rect x="133.8" y="595.1" width="8" height="12.5" fill="#dda391"/>
<path d="M174.2 577.6V627.2M171.9 577.6H176.5M171.9 627.2H176.5" stroke="#d4808f" stroke-width="1.3" fill="none"/>
<rect x="170.2" y="595.9" width="8" height="13.4" fill="#dda391"/>
<path d="M210.4 582V621.3M208.1 582H212.7M208.1 621.3H212.7" stroke="#d4808f" stroke-width="1.3" fill="none"/>
<rect x="206.4" y="594" width="8" height="11.5" fill="#dda391"/>
<path d="M246.8 591.8V621.5M244.5 591.8H249.1M244.5 621.5H249.1" stroke="#d4808f" stroke-width="1.3" fill="none"/>
<rect x="242.8" y="595.1" width="8" height="11.4" fill="#dda391"/>
<path d="M88.8 601.2 L125 602.6 L161.5 602.1 L197.8 601.2 L233.6 600.2" stroke="#4a6290" stroke-width="1.1" fill="none"/>
<line x1="84.8" y1="601.2" x2="92.8" y2="601.2" stroke="#4a6290" stroke-width="1.1"/>
<circle cx="88.8" cy="603.4" r="1.85" fill="none" stroke="#4a6290" stroke-width="1.05"/>
<circle cx="88.8" cy="634.4" r="1.2" fill="none" stroke="#3e5888" stroke-width="1.0"/>
<circle cx="88.8" cy="656.9" r="1.2" fill="none" stroke="#3e5888" stroke-width="1.0"/>
<line x1="121" y1="602.6" x2="129" y2="602.6" stroke="#4a6290" stroke-width="1.1"/>
<circle cx="125" cy="605.8" r="1.85" fill="none" stroke="#4a6290" stroke-width="1.05"/>
<circle cx="125" cy="624.6" r="1.2" fill="none" stroke="#3e5888" stroke-width="1.0"/>
<circle cx="125" cy="625.7" r="1.2" fill="none" stroke="#3e5888" stroke-width="1.0"/>
<circle cx="125" cy="628.8" r="1.2" fill="none" stroke="#3e5888" stroke-width="1.0"/>
<circle cx="125" cy="630.1" r="1.2" fill="none" stroke="#3e5888" stroke-width="1.0"/>
<circle cx="125" cy="641.8" r="1.2" fill="none" stroke="#3e5888" stroke-width="1.0"/>
<circle cx="125" cy="643.2" r="1.2" fill="none" stroke="#3e5888" stroke-width="1.0"/>
<circle cx="125" cy="645.1" r="1.2" fill="none" stroke="#3e5888" stroke-width="1.0"/>
<circle cx="125" cy="656.9" r="1.2" fill="none" stroke="#3e5888" stroke-width="1.0"/>
<circle cx="125" cy="665.2" r="1.2" fill="none" stroke="#3e5888" stroke-width="1.0"/>
<circle cx="125" cy="666.7" r="1.2" fill="none" stroke="#3e5888" stroke-width="1.0"/>
<circle cx="125" cy="668.2" r="1.2" fill="none" stroke="#3e5888" stroke-width="1.0"/>
<line x1="157.5" y1="602.1" x2="165.5" y2="602.1" stroke="#4a6290" stroke-width="1.1"/>
<circle cx="161.5" cy="603.9" r="1.85" fill="none" stroke="#4a6290" stroke-width="1.05"/>
<circle cx="161.5" cy="632.5" r="1.2" fill="none" stroke="#3e5888" stroke-width="1.0"/>
<circle cx="161.5" cy="639.4" r="1.2" fill="none" stroke="#3e5888" stroke-width="1.0"/>
<circle cx="161.5" cy="644.5" r="1.2" fill="none" stroke="#3e5888" stroke-width="1.0"/>
<circle cx="161.5" cy="656.9" r="1.2" fill="none" stroke="#3e5888" stroke-width="1.0"/>
<line x1="193.8" y1="601.2" x2="201.8" y2="601.2" stroke="#4a6290" stroke-width="1.1"/>
<circle cx="197.8" cy="605.9" r="1.85" fill="none" stroke="#4a6290" stroke-width="1.05"/>
<circle cx="197.8" cy="640.2" r="1.2" fill="none" stroke="#3e5888" stroke-width="1.0"/>
<circle cx="197.8" cy="657.1" r="1.2" fill="none" stroke="#3e5888" stroke-width="1.0"/>
<line x1="229.6" y1="600.2" x2="237.6" y2="600.2" stroke="#4a6290" stroke-width="1.1"/>
<circle cx="233.6" cy="603.1" r="1.85" fill="none" stroke="#4a6290" stroke-width="1.05"/>
<circle cx="233.6" cy="631.3" r="1.2" fill="none" stroke="#3e5888" stroke-width="1.0"/>
<circle cx="233.6" cy="657.1" r="1.2" fill="none" stroke="#3e5888" stroke-width="1.0"/>
<path d="M101.6 599.3 L137.8 601.2 L174.2 601.7 L210.4 599.9 L246.8 601.2" stroke="#c6455b" stroke-width="1.1" fill="none"/>
<line x1="97.6" y1="599.3" x2="105.6" y2="599.3" stroke="#c6455b" stroke-width="1.1"/>
<path d="M99.9 602.1h3.4M101.6 600.4v3.4" stroke="#c6455b" stroke-width="1.1"/>
<circle cx="101.6" cy="634.7" r="1.15" fill="#bb3a4f"/>
<circle cx="101.6" cy="656.9" r="1.15" fill="#bb3a4f"/>
<line x1="133.8" y1="601.2" x2="141.8" y2="601.2" stroke="#c6455b" stroke-width="1.1"/>
<path d="M136.1 602.4h3.4M137.8 600.7v3.4" stroke="#c6455b" stroke-width="1.1"/>
<circle cx="137.8" cy="627" r="1.15" fill="#bb3a4f"/>
<circle cx="137.8" cy="628.5" r="1.15" fill="#bb3a4f"/>
<circle cx="137.8" cy="629.8" r="1.15" fill="#bb3a4f"/>
<circle cx="137.8" cy="634.7" r="1.15" fill="#bb3a4f"/>
<circle cx="137.8" cy="644" r="1.15" fill="#bb3a4f"/>
<circle cx="137.8" cy="656.9" r="1.15" fill="#bb3a4f"/>
<line x1="170.2" y1="601.7" x2="178.2" y2="601.7" stroke="#c6455b" stroke-width="1.1"/>
<path d="M172.5 603.1h3.4M174.2 601.4v3.4" stroke="#c6455b" stroke-width="1.1"/>
<circle cx="174.2" cy="571" r="1.15" fill="#bb3a4f"/>
<circle cx="174.2" cy="657.1" r="1.15" fill="#bb3a4f"/>
<line x1="206.4" y1="599.9" x2="214.4" y2="599.9" stroke="#c6455b" stroke-width="1.1"/>
<path d="M208.7 599.9h3.4M210.4 598.2v3.4" stroke="#c6455b" stroke-width="1.1"/>
<circle cx="210.4" cy="562" r="1.15" fill="#bb3a4f"/>
<circle cx="210.4" cy="627.6" r="1.15" fill="#bb3a4f"/>
<line x1="242.8" y1="601.2" x2="250.8" y2="601.2" stroke="#c6455b" stroke-width="1.1"/>
<path d="M245.1 602.7h3.4M246.8 601v3.4" stroke="#c6455b" stroke-width="1.1"/>
<circle cx="246.8" cy="657.1" r="1.15" fill="#bb3a4f"/>
<rect x="317" y="557.9" width="184.4" height="110.6" fill="none" stroke="#000" stroke-width="1.4"/>
<line x1="312.7" y1="576.4" x2="317" y2="576.4" stroke="#000" stroke-width="1.2"/>
<text x="309.2" y="580.3" font-size="11" text-anchor="end" fill="#1a1a1a">4</text>
<line x1="312.7" y1="612.1" x2="317" y2="612.1" stroke="#000" stroke-width="1.2"/>
<text x="309.2" y="616" font-size="11" text-anchor="end" fill="#1a1a1a">2</text>
<line x1="312.7" y1="647.6" x2="317" y2="647.6" stroke="#000" stroke-width="1.2"/>
<text x="309.2" y="651.5" font-size="11" text-anchor="end" fill="#1a1a1a">0</text>
<line x1="337.4" y1="668.5" x2="337.4" y2="672" stroke="#000" stroke-width="1.2"/>
<text x="337.4" y="686.8" font-size="11" text-anchor="middle" fill="#1a1a1a">1</text>
<line x1="373.3" y1="668.5" x2="373.3" y2="672" stroke="#000" stroke-width="1.2"/>
<text x="373.3" y="686.8" font-size="11" text-anchor="middle" fill="#1a1a1a">3</text>
<line x1="409.3" y1="668.5" x2="409.3" y2="672" stroke="#000" stroke-width="1.2"/>
<text x="409.3" y="686.8" font-size="11" text-anchor="middle" fill="#1a1a1a">6</text>
<line x1="445.1" y1="668.5" x2="445.1" y2="672" stroke="#000" stroke-width="1.2"/>
<text x="445.1" y="686.8" font-size="11" text-anchor="middle" fill="#1a1a1a">12</text>
<line x1="480.8" y1="668.5" x2="480.8" y2="672" stroke="#000" stroke-width="1.2"/>
<text x="480.8" y="686.8" font-size="11" text-anchor="middle" fill="#1a1a1a">24</text>
<text x="409.2" y="550.7" font-size="12.8" text-anchor="middle" fill="#1a1a1a" textLength="24" lengthAdjust="spacingAndGlyphs">pDC</text>
<text transform="translate(284.5 549.2) scale(0.94 1)" font-size="15" fill="#1a1a1a">H</text>
<path d="M330.9 570.1V635.5M328.6 570.1H333.2M328.6 635.5H333.2" stroke="#8a9bb9" stroke-width="1.3" fill="none"/>
<rect x="326.9" y="585.7" width="8" height="23" fill="#a1a2c8"/>
<path d="M367.2 566.9V631.7M364.9 566.9H369.5M364.9 631.7H369.5" stroke="#8a9bb9" stroke-width="1.3" fill="none"/>
<rect x="363.2" y="591.2" width="8" height="16.9" fill="#a1a2c8"/>
<path d="M403 568.8V628.1M400.7 568.8H405.3M400.7 628.1H405.3" stroke="#8a9bb9" stroke-width="1.3" fill="none"/>
<rect x="399" y="590.2" width="8" height="15.3" fill="#a1a2c8"/>
<path d="M439 575.6V621.3M436.7 575.6H441.3M436.7 621.3H441.3" stroke="#8a9bb9" stroke-width="1.3" fill="none"/>
<rect x="435" y="591" width="8" height="15.5" fill="#a1a2c8"/>
<path d="M474.8 575.2V619.4M472.5 575.2H477.1M472.5 619.4H477.1" stroke="#8a9bb9" stroke-width="1.3" fill="none"/>
<rect x="470.8" y="588.1" width="8" height="18.4" fill="#a1a2c8"/>
<path d="M343.7 569.1V636M341.4 569.1H346M341.4 636H346" stroke="#d4808f" stroke-width="1.3" fill="none"/>
<rect x="339.7" y="584.6" width="8" height="25.1" fill="#dda391"/>
<path d="M379.8 573.8V633.2M377.5 573.8H382.1M377.5 633.2H382.1" stroke="#d4808f" stroke-width="1.3" fill="none"/>
<rect x="375.8" y="590.8" width="8" height="19.2" fill="#dda391"/>
<path d="M415.7 570V628.5M413.4 570H418M413.4 628.5H418" stroke="#d4808f" stroke-width="1.3" fill="none"/>
<rect x="411.7" y="591.2" width="8" height="19.6" fill="#dda391"/>
<path d="M451.4 571.9V626.2M449.1 571.9H453.7M449.1 626.2H453.7" stroke="#d4808f" stroke-width="1.3" fill="none"/>
<rect x="447.4" y="589.6" width="8" height="15" fill="#dda391"/>
<path d="M487.5 579.4V623.7M485.2 579.4H489.8M485.2 623.7H489.8" stroke="#d4808f" stroke-width="1.3" fill="none"/>
<rect x="483.5" y="589.6" width="8" height="20.6" fill="#dda391"/>
<path d="M330.9 595.1 L367.2 599.7 L403 599.7 L439 598.3 L474.8 593.1" stroke="#4a6290" stroke-width="1.1" fill="none"/>
<line x1="326.9" y1="595.1" x2="334.9" y2="595.1" stroke="#4a6290" stroke-width="1.1"/>
<circle cx="330.9" cy="598.7" r="1.85" fill="none" stroke="#4a6290" stroke-width="1.05"/>
<circle cx="330.9" cy="647.7" r="1.2" fill="none" stroke="#3e5888" stroke-width="1.0"/>
<line x1="363.2" y1="599.7" x2="371.2" y2="599.7" stroke="#4a6290" stroke-width="1.1"/>
<circle cx="367.2" cy="602.1" r="1.85" fill="none" stroke="#4a6290" stroke-width="1.05"/>
<circle cx="367.2" cy="635.1" r="1.2" fill="none" stroke="#3e5888" stroke-width="1.0"/>
<circle cx="367.2" cy="641.3" r="1.2" fill="none" stroke="#3e5888" stroke-width="1.0"/>
<circle cx="367.2" cy="647.7" r="1.2" fill="none" stroke="#3e5888" stroke-width="1.0"/>
<circle cx="367.2" cy="666.2" r="1.2" fill="none" stroke="#3e5888" stroke-width="1.0"/>
<line x1="399" y1="599.7" x2="407" y2="599.7" stroke="#4a6290" stroke-width="1.1"/>
<circle cx="403" cy="599.7" r="1.85" fill="none" stroke="#4a6290" stroke-width="1.05"/>
<circle cx="403" cy="630.8" r="1.2" fill="none" stroke="#3e5888" stroke-width="1.0"/>
<circle cx="403" cy="634.2" r="1.2" fill="none" stroke="#3e5888" stroke-width="1.0"/>
<circle cx="403" cy="647.7" r="1.2" fill="none" stroke="#3e5888" stroke-width="1.0"/>
<line x1="435" y1="598.3" x2="443" y2="598.3" stroke="#4a6290" stroke-width="1.1"/>
<circle cx="439" cy="600.8" r="1.85" fill="none" stroke="#4a6290" stroke-width="1.05"/>
<circle cx="439" cy="630.6" r="1.2" fill="none" stroke="#3e5888" stroke-width="1.0"/>
<circle cx="439" cy="647.9" r="1.2" fill="none" stroke="#3e5888" stroke-width="1.0"/>
<line x1="470.8" y1="593.1" x2="478.8" y2="593.1" stroke="#4a6290" stroke-width="1.1"/>
<circle cx="474.8" cy="598.3" r="1.85" fill="none" stroke="#4a6290" stroke-width="1.05"/>
<circle cx="474.8" cy="647.9" r="1.2" fill="none" stroke="#3e5888" stroke-width="1.0"/>
<path d="M343.7 594 L379.8 599.7 L415.7 598.3 L451.4 596.9 L487.5 596.7" stroke="#c6455b" stroke-width="1.1" fill="none"/>
<line x1="339.7" y1="594" x2="347.7" y2="594" stroke="#c6455b" stroke-width="1.1"/>
<path d="M342 600.6h3.4M343.7 598.9v3.4" stroke="#c6455b" stroke-width="1.1"/>
<circle cx="343.7" cy="647.7" r="1.15" fill="#bb3a4f"/>
<line x1="375.8" y1="599.7" x2="383.8" y2="599.7" stroke="#c6455b" stroke-width="1.1"/>
<path d="M378.1 603.6h3.4M379.8 601.9v3.4" stroke="#c6455b" stroke-width="1.1"/>
<circle cx="379.8" cy="643.6" r="1.15" fill="#bb3a4f"/>
<circle cx="379.8" cy="647.7" r="1.15" fill="#bb3a4f"/>
<line x1="411.7" y1="598.3" x2="419.7" y2="598.3" stroke="#c6455b" stroke-width="1.1"/>
<path d="M414 603.1h3.4M415.7 601.4v3.4" stroke="#c6455b" stroke-width="1.1"/>
<circle cx="415.7" cy="560.8" r="1.15" fill="#bb3a4f"/>
<circle cx="415.7" cy="647.9" r="1.15" fill="#bb3a4f"/>
<line x1="447.4" y1="596.9" x2="455.4" y2="596.9" stroke="#c6455b" stroke-width="1.1"/>
<path d="M449.7 597.7h3.4M451.4 596v3.4" stroke="#c6455b" stroke-width="1.1"/>
<circle cx="451.4" cy="647.9" r="1.15" fill="#bb3a4f"/>
<line x1="483.5" y1="596.7" x2="491.5" y2="596.7" stroke="#c6455b" stroke-width="1.1"/>
<path d="M485.8 601.7h3.4M487.5 600v3.4" stroke="#c6455b" stroke-width="1.1"/>
<circle cx="487.5" cy="647.9" r="1.15" fill="#bb3a4f"/>
<rect x="74" y="735.5" width="189" height="110.5" fill="none" stroke="#000" stroke-width="1.4"/>
<line x1="69.7" y1="744" x2="74" y2="744" stroke="#000" stroke-width="1.2"/>
<text x="66.2" y="747.9" font-size="11" text-anchor="end" fill="#1a1a1a">6</text>
<line x1="69.7" y1="777.2" x2="74" y2="777.2" stroke="#000" stroke-width="1.2"/>
<text x="66.2" y="781.1" font-size="11" text-anchor="end" fill="#1a1a1a">4</text>
<line x1="69.7" y1="809.9" x2="74" y2="809.9" stroke="#000" stroke-width="1.2"/>
<text x="66.2" y="813.8" font-size="11" text-anchor="end" fill="#1a1a1a">2</text>
<line x1="69.7" y1="843.4" x2="74" y2="843.4" stroke="#000" stroke-width="1.2"/>
<text x="66.2" y="847.3" font-size="11" text-anchor="end" fill="#1a1a1a">0</text>
<line x1="95.6" y1="846" x2="95.6" y2="849.5" stroke="#000" stroke-width="1.2"/>
<text x="95.6" y="864.3" font-size="11" text-anchor="middle" fill="#1a1a1a">1</text>
<line x1="131.8" y1="846" x2="131.8" y2="849.5" stroke="#000" stroke-width="1.2"/>
<text x="131.8" y="864.3" font-size="11" text-anchor="middle" fill="#1a1a1a">3</text>
<line x1="168.8" y1="846" x2="168.8" y2="849.5" stroke="#000" stroke-width="1.2"/>
<text x="168.8" y="864.3" font-size="11" text-anchor="middle" fill="#1a1a1a">6</text>
<line x1="205.2" y1="846" x2="205.2" y2="849.5" stroke="#000" stroke-width="1.2"/>
<text x="205.2" y="864.3" font-size="11" text-anchor="middle" fill="#1a1a1a">12</text>
<line x1="241.4" y1="846" x2="241.4" y2="849.5" stroke="#000" stroke-width="1.2"/>
<text x="241.4" y="864.3" font-size="11" text-anchor="middle" fill="#1a1a1a">24</text>
<text x="168.5" y="727.5" font-size="12.8" text-anchor="middle" fill="#1a1a1a" textLength="125.5" lengthAdjust="spacingAndGlyphs">CD56+ CD16+ NK cells</text>
<text transform="translate(41.9 726.2) scale(0.8 1)" font-size="15" fill="#1a1a1a">I</text>
<path d="M88.8 746.4V789.6M86.5 746.4H91.1M86.5 789.6H91.1" stroke="#8a9bb9" stroke-width="1.3" fill="none"/>
<rect x="84.8" y="759.3" width="8" height="11.5" fill="#a1a2c8"/>
<path d="M125.3 751V785.2M123 751H127.6M123 785.2H127.6" stroke="#8a9bb9" stroke-width="1.3" fill="none"/>
<rect x="121.3" y="760.6" width="8" height="10.2" fill="#a1a2c8"/>
<path d="M162.3 749.9V781.8M160 749.9H164.6M160 781.8H164.6" stroke="#8a9bb9" stroke-width="1.3" fill="none"/>
<rect x="158.3" y="759.3" width="8" height="11.1" fill="#a1a2c8"/>
<path d="M199.2 748.4V782.5M196.9 748.4H201.5M196.9 782.5H201.5" stroke="#8a9bb9" stroke-width="1.3" fill="none"/>
<rect x="195.2" y="759.3" width="8" height="10.4" fill="#a1a2c8"/>
<path d="M235.6 748.6V783.3M233.3 748.6H237.9M233.3 783.3H237.9" stroke="#8a9bb9" stroke-width="1.3" fill="none"/>
<rect x="231.6" y="758.8" width="8" height="10" fill="#a1a2c8"/>
<path d="M101.9 742.7V785.2M99.6 742.7H104.2M99.6 785.2H104.2" stroke="#d4808f" stroke-width="1.3" fill="none"/>
<rect x="97.9" y="755.1" width="8" height="11.6" fill="#dda391"/>
<path d="M138.4 750.5V780.6M136.1 750.5H140.7M136.1 780.6H140.7" stroke="#d4808f" stroke-width="1.3" fill="none"/>
<rect x="134.4" y="758.2" width="8" height="9.2" fill="#dda391"/>
<path d="M175.2 745.6V781.4M172.9 745.6H177.5M172.9 781.4H177.5" stroke="#d4808f" stroke-width="1.3" fill="none"/>
<rect x="171.2" y="757.4" width="8" height="9.5" fill="#dda391"/>
<path d="M211.8 744.6V779.5M209.5 744.6H214.1M209.5 779.5H214.1" stroke="#d4808f" stroke-width="1.3" fill="none"/>
<rect x="207.8" y="755.6" width="8" height="10.3" fill="#dda391"/>
<path d="M248.3 751.4V772M246 751.4H250.6M246 772H250.6" stroke="#d4808f" stroke-width="1.3" fill="none"/>
<rect x="244.3" y="758.4" width="8" height="7.1" fill="#dda391"/>
<path d="M88.8 763.4 L125.3 765.2 L162.3 763.4 L199.2 762.7 L235.6 762.2" stroke="#4a6290" stroke-width="1.1" fill="none"/>
<line x1="84.8" y1="763.4" x2="92.8" y2="763.4" stroke="#4a6290" stroke-width="1.1"/>
<circle cx="88.8" cy="767.4" r="1.85" fill="none" stroke="#4a6290" stroke-width="1.05"/>
<circle cx="88.8" cy="737.2" r="1.2" fill="none" stroke="#3e5888" stroke-width="1.0"/>
<circle cx="88.8" cy="793.3" r="1.2" fill="none" stroke="#3e5888" stroke-width="1.0"/>
<circle cx="88.8" cy="794.8" r="1.2" fill="none" stroke="#3e5888" stroke-width="1.0"/>
<circle cx="88.8" cy="799.4" r="1.2" fill="none" stroke="#3e5888" stroke-width="1.0"/>
<circle cx="88.8" cy="801.2" r="1.2" fill="none" stroke="#3e5888" stroke-width="1.0"/>
<circle cx="88.8" cy="803.1" r="1.2" fill="none" stroke="#3e5888" stroke-width="1.0"/>
<circle cx="88.8" cy="806.4" r="1.2" fill="none" stroke="#3e5888" stroke-width="1.0"/>
<circle cx="88.8" cy="816.9" r="1.2" fill="none" stroke="#3e5888" stroke-width="1.0"/>
<circle cx="88.8" cy="818.8" r="1.2" fill="none" stroke="#3e5888" stroke-width="1.0"/>
<circle cx="88.8" cy="820.6" r="1.2" fill="none" stroke="#3e5888" stroke-width="1.0"/>
<circle cx="88.8" cy="843.1" r="1.2" fill="none" stroke="#3e5888" stroke-width="1.0"/>
<line x1="121.3" y1="765.2" x2="129.3" y2="765.2" stroke="#4a6290" stroke-width="1.1"/>
<circle cx="125.3" cy="768.6" r="1.85" fill="none" stroke="#4a6290" stroke-width="1.05"/>
<circle cx="125.3" cy="740.3" r="1.2" fill="none" stroke="#3e5888" stroke-width="1.0"/>
<circle cx="125.3" cy="742.2" r="1.2" fill="none" stroke="#3e5888" stroke-width="1.0"/>
<circle cx="125.3" cy="744.6" r="1.2" fill="none" stroke="#3e5888" stroke-width="1.0"/>
<circle cx="125.3" cy="792" r="1.2" fill="none" stroke="#3e5888" stroke-width="1.0"/>
<circle cx="125.3" cy="793.8" r="1.2" fill="none" stroke="#3e5888" stroke-width="1.0"/>
<circle cx="125.3" cy="795.7" r="1.2" fill="none" stroke="#3e5888" stroke-width="1.0"/>
<circle cx="125.3" cy="799.9" r="1.2" fill="none" stroke="#3e5888" stroke-width="1.0"/>
<circle cx="125.3" cy="801.8" r="1.2" fill="none" stroke="#3e5888" stroke-width="1.0"/>
<circle cx="125.3" cy="805.5" r="1.2" fill="none" stroke="#3e5888" stroke-width="1.0"/>
<circle cx="125.3" cy="806.8" r="1.2" fill="none" stroke="#3e5888" stroke-width="1.0"/>
<circle cx="125.3" cy="818.4" r="1.2" fill="none" stroke="#3e5888" stroke-width="1.0"/>
<circle cx="125.3" cy="822.8" r="1.2" fill="none" stroke="#3e5888" stroke-width="1.0"/>
<circle cx="125.3" cy="825.2" r="1.2" fill="none" stroke="#3e5888" stroke-width="1.0"/>
<circle cx="125.3" cy="826.5" r="1.2" fill="none" stroke="#3e5888" stroke-width="1.0"/>
<circle cx="125.3" cy="843.1" r="1.2" fill="none" stroke="#3e5888" stroke-width="1.0"/>
<line x1="158.3" y1="763.4" x2="166.3" y2="763.4" stroke="#4a6290" stroke-width="1.1"/>
<circle cx="162.3" cy="766.7" r="1.85" fill="none" stroke="#4a6290" stroke-width="1.05"/>
<circle cx="162.3" cy="790.7" r="1.2" fill="none" stroke="#3e5888" stroke-width="1.0"/>
<circle cx="162.3" cy="793.8" r="1.2" fill="none" stroke="#3e5888" stroke-width="1.0"/>
<circle cx="162.3" cy="798.8" r="1.2" fill="none" stroke="#3e5888" stroke-width="1.0"/>
<circle cx="162.3" cy="811" r="1.2" fill="none" stroke="#3e5888" stroke-width="1.0"/>
<circle cx="162.3" cy="815.1" r="1.2" fill="none" stroke="#3e5888" stroke-width="1.0"/>
<circle cx="162.3" cy="816.9" r="1.2" fill="none" stroke="#3e5888" stroke-width="1.0"/>
<circle cx="162.3" cy="818.4" r="1.2" fill="none" stroke="#3e5888" stroke-width="1.0"/>
<circle cx="162.3" cy="820.2" r="1.2" fill="none" stroke="#3e5888" stroke-width="1.0"/>
<circle cx="162.3" cy="827.4" r="1.2" fill="none" stroke="#3e5888" stroke-width="1.0"/>
<line x1="195.2" y1="762.7" x2="203.2" y2="762.7" stroke="#4a6290" stroke-width="1.1"/>
<circle cx="199.2" cy="765.4" r="1.85" fill="none" stroke="#4a6290" stroke-width="1.05"/>
<circle cx="199.2" cy="788.2" r="1.2" fill="none" stroke="#3e5888" stroke-width="1.0"/>
<circle cx="199.2" cy="793.3" r="1.2" fill="none" stroke="#3e5888" stroke-width="1.0"/>
<line x1="231.6" y1="762.2" x2="239.6" y2="762.2" stroke="#4a6290" stroke-width="1.1"/>
<circle cx="235.6" cy="765.5" r="1.85" fill="none" stroke="#4a6290" stroke-width="1.05"/>
<circle cx="235.6" cy="740.5" r="1.2" fill="none" stroke="#3e5888" stroke-width="1.0"/>
<circle cx="235.6" cy="787.6" r="1.2" fill="none" stroke="#3e5888" stroke-width="1.0"/>
<circle cx="235.6" cy="790.4" r="1.2" fill="none" stroke="#3e5888" stroke-width="1.0"/>
<circle cx="235.6" cy="792.7" r="1.2" fill="none" stroke="#3e5888" stroke-width="1.0"/>
<circle cx="235.6" cy="794.6" r="1.2" fill="none" stroke="#3e5888" stroke-width="1.0"/>
<circle cx="235.6" cy="803.6" r="1.2" fill="none" stroke="#3e5888" stroke-width="1.0"/>
<circle cx="235.6" cy="805.1" r="1.2" fill="none" stroke="#3e5888" stroke-width="1.0"/>
<circle cx="235.6" cy="806.1" r="1.2" fill="none" stroke="#3e5888" stroke-width="1.0"/>
<path d="M101.9 760.6 L138.4 762.5 L175.2 762.2 L211.8 761.6 L248.3 761.2" stroke="#c6455b" stroke-width="1.1" fill="none"/>
<line x1="97.9" y1="760.6" x2="105.9" y2="760.6" stroke="#c6455b" stroke-width="1.1"/>
<path d="M100.2 760.6h3.4M101.9 758.9v3.4" stroke="#c6455b" stroke-width="1.1"/>
<circle cx="101.9" cy="787" r="1.15" fill="#bb3a4f"/>
<circle cx="101.9" cy="790.7" r="1.15" fill="#bb3a4f"/>
<circle cx="101.9" cy="795.7" r="1.15" fill="#bb3a4f"/>
<circle cx="101.9" cy="797" r="1.15" fill="#bb3a4f"/>
<circle cx="101.9" cy="807.7" r="1.15" fill="#bb3a4f"/>
<circle cx="101.9" cy="814.7" r="1.15" fill="#bb3a4f"/>
<circle cx="101.9" cy="818.4" r="1.15" fill="#bb3a4f"/>
<circle cx="101.9" cy="843.1" r="1.15" fill="#bb3a4f"/>
<line x1="134.4" y1="762.5" x2="142.4" y2="762.5" stroke="#c6455b" stroke-width="1.1"/>
<path d="M136.7 764.3h3.4M138.4 762.6v3.4" stroke="#c6455b" stroke-width="1.1"/>
<circle cx="138.4" cy="784.2" r="1.15" fill="#bb3a4f"/>
<circle cx="138.4" cy="787" r="1.15" fill="#bb3a4f"/>
<circle cx="138.4" cy="791.1" r="1.15" fill="#bb3a4f"/>
<circle cx="138.4" cy="797" r="1.15" fill="#bb3a4f"/>
<circle cx="138.4" cy="798.8" r="1.15" fill="#bb3a4f"/>
<circle cx="138.4" cy="799.9" r="1.15" fill="#bb3a4f"/>
<circle cx="138.4" cy="815.4" r="1.15" fill="#bb3a4f"/>
<circle cx="138.4" cy="830.2" r="1.15" fill="#bb3a4f"/>
<circle cx="138.4" cy="843.1" r="1.15" fill="#bb3a4f"/>
<line x1="171.2" y1="762.2" x2="179.2" y2="762.2" stroke="#c6455b" stroke-width="1.1"/>
<path d="M173.5 764h3.4M175.2 762.3v3.4" stroke="#c6455b" stroke-width="1.1"/>
<circle cx="175.2" cy="783.8" r="1.15" fill="#bb3a4f"/>
<circle cx="175.2" cy="789.5" r="1.15" fill="#bb3a4f"/>
<circle cx="175.2" cy="811.2" r="1.15" fill="#bb3a4f"/>
<circle cx="175.2" cy="821.1" r="1.15" fill="#bb3a4f"/>
<line x1="207.8" y1="761.6" x2="215.8" y2="761.6" stroke="#c6455b" stroke-width="1.1"/>
<path d="M210.1 761.6h3.4M211.8 759.9v3.4" stroke="#c6455b" stroke-width="1.1"/>
<circle cx="211.8" cy="784.8" r="1.15" fill="#bb3a4f"/>
<circle cx="211.8" cy="787.6" r="1.15" fill="#bb3a4f"/>
<circle cx="211.8" cy="827.2" r="1.15" fill="#bb3a4f"/>
<line x1="244.3" y1="761.2" x2="252.3" y2="761.2" stroke="#c6455b" stroke-width="1.1"/>
<path d="M246.6 761.8h3.4M248.3 760.1v3.4" stroke="#c6455b" stroke-width="1.1"/>
<circle cx="248.3" cy="777.2" r="1.15" fill="#bb3a4f"/>
<circle cx="248.3" cy="787.2" r="1.15" fill="#bb3a4f"/>
<path d="M90.16 739.8H94.19M91.3 738.28L93.05 741.32M91.3 741.32L93.05 738.28" stroke="#333" stroke-width="0.95" fill="none"/>
<path d="M94.81 739.8H98.84M95.95 738.28L97.7 741.32M95.95 741.32L97.7 738.28" stroke="#333" stroke-width="0.95" fill="none"/>
<path d="M127.26 739.8H131.29M128.4 738.28L130.15 741.32M128.4 741.32L130.15 738.28" stroke="#333" stroke-width="0.95" fill="none"/>
<path d="M131.91 739.8H135.94M133.05 738.28L134.8 741.32M133.05 741.32L134.8 738.28" stroke="#333" stroke-width="0.95" fill="none"/>
<path d="M200.76 739.9H204.79M201.9 738.38L203.65 741.42M201.9 741.42L203.65 738.38" stroke="#333" stroke-width="0.95" fill="none"/>
<path d="M205.41 739.9H209.44M206.55 738.38L208.3 741.42M206.55 741.42L208.3 738.38" stroke="#333" stroke-width="0.95" fill="none"/>
<rect x="317" y="734.6" width="190.6" height="110.8" fill="none" stroke="#000" stroke-width="1.4"/>
<line x1="312.7" y1="751.4" x2="317" y2="751.4" stroke="#000" stroke-width="1.2"/>
<text x="309.2" y="755.3" font-size="11" text-anchor="end" fill="#1a1a1a">6</text>
<line x1="312.7" y1="782.1" x2="317" y2="782.1" stroke="#000" stroke-width="1.2"/>
<text x="309.2" y="786" font-size="11" text-anchor="end" fill="#1a1a1a">4</text>
<line x1="312.7" y1="812.1" x2="317" y2="812.1" stroke="#000" stroke-width="1.2"/>
<text x="309.2" y="816" font-size="11" text-anchor="end" fill="#1a1a1a">2</text>
<line x1="312.7" y1="842.9" x2="317" y2="842.9" stroke="#000" stroke-width="1.2"/>
<text x="309.2" y="846.8" font-size="11" text-anchor="end" fill="#1a1a1a">0</text>
<line x1="337.7" y1="845.4" x2="337.7" y2="848.9" stroke="#000" stroke-width="1.2"/>
<text x="337.7" y="863.7" font-size="11" text-anchor="middle" fill="#1a1a1a">1</text>
<line x1="374.7" y1="845.4" x2="374.7" y2="848.9" stroke="#000" stroke-width="1.2"/>
<text x="371.7" y="863.7" font-size="11" text-anchor="middle" fill="#1a1a1a">3</text>
<line x1="412" y1="845.4" x2="412" y2="848.9" stroke="#000" stroke-width="1.2"/>
<text x="405.6" y="863.7" font-size="11" text-anchor="middle" fill="#1a1a1a">6</text>
<line x1="449.1" y1="845.4" x2="449.1" y2="848.9" stroke="#000" stroke-width="1.2"/>
<text x="444.2" y="863.7" font-size="11" text-anchor="middle" fill="#1a1a1a">12</text>
<line x1="486.6" y1="845.4" x2="486.6" y2="848.9" stroke="#000" stroke-width="1.2"/>
<text x="487.7" y="863.7" font-size="11" text-anchor="middle" fill="#1a1a1a">24</text>
<text x="412.3" y="727.8" font-size="12.8" text-anchor="middle" fill="#1a1a1a" textLength="120.2" lengthAdjust="spacingAndGlyphs">CD56+ CD16- NK cells</text>
<text transform="translate(284.7 726.2) scale(0.69 1)" font-size="15" fill="#1a1a1a">J</text>
<path d="M331.5 754.2V795.5M329.2 754.2H333.8M329.2 795.5H333.8" stroke="#8a9bb9" stroke-width="1.3" fill="none"/>
<rect x="327.5" y="765.9" width="8" height="12.3" fill="#a1a2c8"/>
<path d="M368.6 755.9V792.9M366.3 755.9H370.9M366.3 792.9H370.9" stroke="#8a9bb9" stroke-width="1.3" fill="none"/>
<rect x="364.6" y="768.2" width="8" height="10" fill="#a1a2c8"/>
<path d="M405.8 756.1V792.3M403.5 756.1H408.1M403.5 792.3H408.1" stroke="#8a9bb9" stroke-width="1.3" fill="none"/>
<rect x="401.8" y="767.2" width="8" height="10.4" fill="#a1a2c8"/>
<path d="M443 760.3V791M440.7 760.3H445.3M440.7 791H445.3" stroke="#8a9bb9" stroke-width="1.3" fill="none"/>
<rect x="439" y="771" width="8" height="8.5" fill="#a1a2c8"/>
<path d="M479.8 761.8V790.3M477.5 761.8H482.1M477.5 790.3H482.1" stroke="#8a9bb9" stroke-width="1.3" fill="none"/>
<rect x="475.8" y="773" width="8" height="9" fill="#a1a2c8"/>
<path d="M344 751.4V790.4M341.7 751.4H346.3M341.7 790.4H346.3" stroke="#d4808f" stroke-width="1.3" fill="none"/>
<rect x="340" y="766.3" width="8" height="9" fill="#dda391"/>
<path d="M381.2 754.6V791.4M378.9 754.6H383.5M378.9 791.4H383.5" stroke="#d4808f" stroke-width="1.3" fill="none"/>
<rect x="377.2" y="768.4" width="8" height="9.8" fill="#dda391"/>
<path d="M418.5 757V792.6M416.2 757H420.8M416.2 792.6H420.8" stroke="#d4808f" stroke-width="1.3" fill="none"/>
<rect x="414.5" y="769.5" width="8" height="11.5" fill="#dda391"/>
<path d="M455.8 758.3V791M453.5 758.3H458.1M453.5 791H458.1" stroke="#d4808f" stroke-width="1.3" fill="none"/>
<rect x="451.8" y="772.4" width="8" height="9" fill="#dda391"/>
<path d="M492.8 757V787.4M490.5 757H495.1M490.5 787.4H495.1" stroke="#d4808f" stroke-width="1.3" fill="none"/>
<rect x="488.8" y="772.8" width="8" height="10.7" fill="#dda391"/>
<path d="M331.5 771.2 L368.6 772.5 L405.8 773.8 L443 775.8 L479.8 777.6" stroke="#4a6290" stroke-width="1.1" fill="none"/>
<line x1="327.5" y1="771.2" x2="335.5" y2="771.2" stroke="#4a6290" stroke-width="1.1"/>
<circle cx="331.5" cy="774.4" r="1.85" fill="none" stroke="#4a6290" stroke-width="1.05"/>
<circle cx="331.5" cy="798.3" r="1.2" fill="none" stroke="#3e5888" stroke-width="1.0"/>
<circle cx="331.5" cy="799.8" r="1.2" fill="none" stroke="#3e5888" stroke-width="1.0"/>
<circle cx="331.5" cy="801.4" r="1.2" fill="none" stroke="#3e5888" stroke-width="1.0"/>
<circle cx="331.5" cy="802.7" r="1.2" fill="none" stroke="#3e5888" stroke-width="1.0"/>
<circle cx="331.5" cy="807.4" r="1.2" fill="none" stroke="#3e5888" stroke-width="1.0"/>
<circle cx="331.5" cy="813.6" r="1.2" fill="none" stroke="#3e5888" stroke-width="1.0"/>
<circle cx="331.5" cy="818.1" r="1.2" fill="none" stroke="#3e5888" stroke-width="1.0"/>
<line x1="364.6" y1="772.5" x2="372.6" y2="772.5" stroke="#4a6290" stroke-width="1.1"/>
<circle cx="368.6" cy="774.4" r="1.85" fill="none" stroke="#4a6290" stroke-width="1.05"/>
<circle cx="368.6" cy="797.6" r="1.2" fill="none" stroke="#3e5888" stroke-width="1.0"/>
<circle cx="368.6" cy="804.2" r="1.2" fill="none" stroke="#3e5888" stroke-width="1.0"/>
<circle cx="368.6" cy="805.5" r="1.2" fill="none" stroke="#3e5888" stroke-width="1.0"/>
<circle cx="368.6" cy="806.8" r="1.2" fill="none" stroke="#3e5888" stroke-width="1.0"/>
<circle cx="368.6" cy="821.9" r="1.2" fill="none" stroke="#3e5888" stroke-width="1.0"/>
<circle cx="368.6" cy="838.9" r="1.2" fill="none" stroke="#3e5888" stroke-width="1.0"/>
<line x1="401.8" y1="773.8" x2="409.8" y2="773.8" stroke="#4a6290" stroke-width="1.1"/>
<circle cx="405.8" cy="772.9" r="1.85" fill="none" stroke="#4a6290" stroke-width="1.05"/>
<circle cx="405.8" cy="801.4" r="1.2" fill="none" stroke="#3e5888" stroke-width="1.0"/>
<circle cx="405.8" cy="810.2" r="1.2" fill="none" stroke="#3e5888" stroke-width="1.0"/>
<line x1="439" y1="775.8" x2="447" y2="775.8" stroke="#4a6290" stroke-width="1.1"/>
<circle cx="443" cy="775.3" r="1.85" fill="none" stroke="#4a6290" stroke-width="1.05"/>
<circle cx="443" cy="756.6" r="1.2" fill="none" stroke="#3e5888" stroke-width="1.0"/>
<circle cx="443" cy="758" r="1.2" fill="none" stroke="#3e5888" stroke-width="1.0"/>
<circle cx="443" cy="797.8" r="1.2" fill="none" stroke="#3e5888" stroke-width="1.0"/>
<line x1="475.8" y1="777.6" x2="483.8" y2="777.6" stroke="#4a6290" stroke-width="1.1"/>
<circle cx="479.8" cy="778.2" r="1.85" fill="none" stroke="#4a6290" stroke-width="1.05"/>
<circle cx="479.8" cy="756.4" r="1.2" fill="none" stroke="#3e5888" stroke-width="1.0"/>
<circle cx="479.8" cy="796.4" r="1.2" fill="none" stroke="#3e5888" stroke-width="1.0"/>
<circle cx="479.8" cy="843" r="1.2" fill="none" stroke="#3e5888" stroke-width="1.0"/>
<path d="M344 769.7 L381.2 773.5 L418.5 775.3 L455.8 776.2 L492.8 777.6" stroke="#c6455b" stroke-width="1.1" fill="none"/>
<line x1="340" y1="769.7" x2="348" y2="769.7" stroke="#c6455b" stroke-width="1.1"/>
<path d="M342.3 771.6h3.4M344 769.9v3.4" stroke="#c6455b" stroke-width="1.1"/>
<circle cx="344" cy="737.3" r="1.15" fill="#bb3a4f"/>
<circle cx="344" cy="792.7" r="1.15" fill="#bb3a4f"/>
<circle cx="344" cy="794.2" r="1.15" fill="#bb3a4f"/>
<circle cx="344" cy="795.7" r="1.15" fill="#bb3a4f"/>
<circle cx="344" cy="797" r="1.15" fill="#bb3a4f"/>
<circle cx="344" cy="798.3" r="1.15" fill="#bb3a4f"/>
<circle cx="344" cy="802.1" r="1.15" fill="#bb3a4f"/>
<circle cx="344" cy="827.2" r="1.15" fill="#bb3a4f"/>
<line x1="377.2" y1="773.5" x2="385.2" y2="773.5" stroke="#c6455b" stroke-width="1.1"/>
<path d="M379.5 773.5h3.4M381.2 771.8v3.4" stroke="#c6455b" stroke-width="1.1"/>
<circle cx="381.2" cy="793.3" r="1.15" fill="#bb3a4f"/>
<circle cx="381.2" cy="795.1" r="1.15" fill="#bb3a4f"/>
<circle cx="381.2" cy="797" r="1.15" fill="#bb3a4f"/>
<circle cx="381.2" cy="798.9" r="1.15" fill="#bb3a4f"/>
<circle cx="381.2" cy="800.8" r="1.15" fill="#bb3a4f"/>
<circle cx="381.2" cy="802.7" r="1.15" fill="#bb3a4f"/>
<line x1="414.5" y1="775.3" x2="422.5" y2="775.3" stroke="#c6455b" stroke-width="1.1"/>
<path d="M416.8 775.8h3.4M418.5 774.1v3.4" stroke="#c6455b" stroke-width="1.1"/>
<circle cx="418.5" cy="798.3" r="1.15" fill="#bb3a4f"/>
<circle cx="418.5" cy="799.7" r="1.15" fill="#bb3a4f"/>
<circle cx="418.5" cy="801.2" r="1.15" fill="#bb3a4f"/>
<circle cx="418.5" cy="802.8" r="1.15" fill="#bb3a4f"/>
<circle cx="418.5" cy="804.1" r="1.15" fill="#bb3a4f"/>
<circle cx="418.5" cy="806" r="1.15" fill="#bb3a4f"/>
<line x1="451.8" y1="776.2" x2="459.8" y2="776.2" stroke="#c6455b" stroke-width="1.1"/>
<path d="M454.1 775.8h3.4M455.8 774.1v3.4" stroke="#c6455b" stroke-width="1.1"/>
<circle cx="455.8" cy="754.5" r="1.15" fill="#bb3a4f"/>
<circle cx="455.8" cy="816" r="1.15" fill="#bb3a4f"/>
<line x1="488.8" y1="777.6" x2="496.8" y2="777.6" stroke="#c6455b" stroke-width="1.1"/>
<path d="M491.1 776.2h3.4M492.8 774.5v3.4" stroke="#c6455b" stroke-width="1.1"/>
<circle cx="492.8" cy="751.6" r="1.15" fill="#bb3a4f"/>
<circle cx="492.8" cy="753.2" r="1.15" fill="#bb3a4f"/>
<circle cx="492.8" cy="754.7" r="1.15" fill="#bb3a4f"/>
<circle cx="492.8" cy="816" r="1.15" fill="#bb3a4f"/>
</svg>
</body></html>
